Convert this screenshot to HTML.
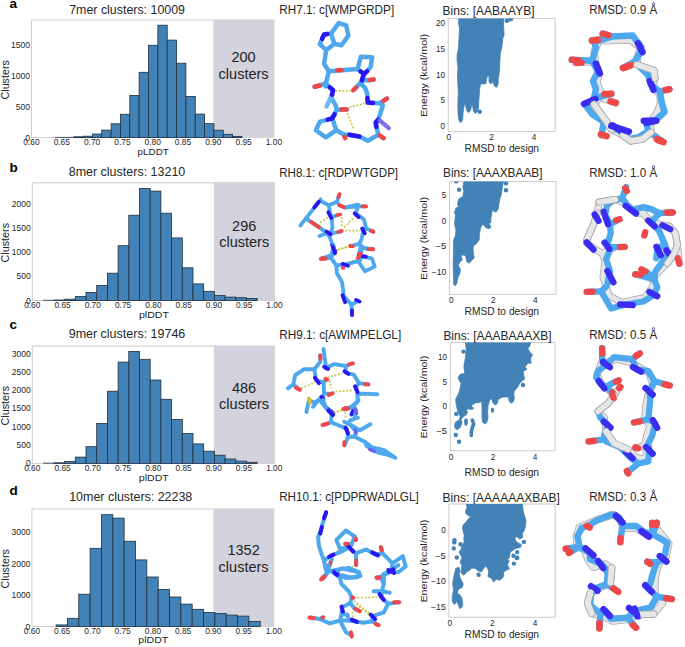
<!DOCTYPE html>
<html><head><meta charset="utf-8"><title>figure</title>
<style>html,body{margin:0;padding:0;background:#fff;width:685px;height:647px;overflow:hidden}svg{display:block}</style>
</head><body>
<svg width="685" height="647" viewBox="0 0 685 647" font-family='"Liberation Sans", sans-serif'><text x="9.6" y="8.3" font-size="13.5" text-anchor="start" font-weight="bold" fill="#000">a</text>
<text x="9.6" y="172.3" font-size="13.5" text-anchor="start" font-weight="bold" fill="#000">b</text>
<text x="9.6" y="328.6" font-size="13.5" text-anchor="start" font-weight="bold" fill="#000">c</text>
<text x="9.6" y="494.8" font-size="13.5" text-anchor="start" font-weight="bold" fill="#000">d</text>
<rect x="31.5" y="20.0" width="242.4" height="117.6" fill="#fff" stroke="#cccccc" stroke-width="1"/>
<rect x="213.3" y="20.0" width="60.6" height="117.6" fill="#d3d3de"/>
<line x1="55.00" y1="137.40" x2="64.35" y2="137.40" stroke="#1f2f3f" stroke-width="0.8"/>
<line x1="64.35" y1="137.40" x2="73.70" y2="137.40" stroke="#1f2f3f" stroke-width="0.8"/>
<rect x="73.70" y="136.80" width="9.35" height="0.80" fill="#4282b6" stroke="#1f2f3f" stroke-width="0.8"/>
<rect x="83.05" y="136.20" width="9.35" height="1.40" fill="#4282b6" stroke="#1f2f3f" stroke-width="0.8"/>
<rect x="92.40" y="134.00" width="9.35" height="3.60" fill="#4282b6" stroke="#1f2f3f" stroke-width="0.8"/>
<rect x="101.75" y="130.10" width="9.35" height="7.50" fill="#4282b6" stroke="#1f2f3f" stroke-width="0.8"/>
<rect x="111.10" y="123.80" width="9.35" height="13.80" fill="#4282b6" stroke="#1f2f3f" stroke-width="0.8"/>
<rect x="120.45" y="114.30" width="9.35" height="23.30" fill="#4282b6" stroke="#1f2f3f" stroke-width="0.8"/>
<rect x="129.80" y="95.40" width="9.35" height="42.20" fill="#4282b6" stroke="#1f2f3f" stroke-width="0.8"/>
<rect x="139.15" y="72.30" width="9.35" height="65.30" fill="#4282b6" stroke="#1f2f3f" stroke-width="0.8"/>
<rect x="148.50" y="45.30" width="9.35" height="92.30" fill="#4282b6" stroke="#1f2f3f" stroke-width="0.8"/>
<rect x="157.85" y="25.20" width="9.35" height="112.40" fill="#4282b6" stroke="#1f2f3f" stroke-width="0.8"/>
<rect x="167.20" y="40.10" width="9.35" height="97.50" fill="#4282b6" stroke="#1f2f3f" stroke-width="0.8"/>
<rect x="176.55" y="63.20" width="9.35" height="74.40" fill="#4282b6" stroke="#1f2f3f" stroke-width="0.8"/>
<rect x="185.90" y="96.40" width="9.35" height="41.20" fill="#4282b6" stroke="#1f2f3f" stroke-width="0.8"/>
<rect x="195.25" y="114.10" width="9.35" height="23.50" fill="#4282b6" stroke="#1f2f3f" stroke-width="0.8"/>
<rect x="204.60" y="123.70" width="9.35" height="13.90" fill="#4282b6" stroke="#1f2f3f" stroke-width="0.8"/>
<rect x="213.95" y="130.20" width="9.35" height="7.40" fill="#4282b6" stroke="#1f2f3f" stroke-width="0.8"/>
<rect x="223.30" y="134.30" width="9.35" height="3.30" fill="#4282b6" stroke="#1f2f3f" stroke-width="0.8"/>
<rect x="232.65" y="136.50" width="9.35" height="1.10" fill="#4282b6" stroke="#1f2f3f" stroke-width="0.8"/>
<text x="69.2" y="14.3" font-size="13.5" text-anchor="start" font-weight="normal" fill="#262626" textLength="115.8" lengthAdjust="spacingAndGlyphs">7mer clusters: 10009</text>
<text x="243.6" y="61.6" font-size="14.5" text-anchor="middle" font-weight="normal" fill="#222">200</text>
<text x="243.6" y="78.5" font-size="14.5" text-anchor="middle" font-weight="normal" fill="#222" textLength="50.0" lengthAdjust="spacingAndGlyphs">clusters</text>
<text x="31.5" y="145.4" font-size="8.4" text-anchor="middle" font-weight="normal" fill="#262626" textLength="16.3" lengthAdjust="spacingAndGlyphs">0.60</text>
<text x="61.8" y="145.4" font-size="8.4" text-anchor="middle" font-weight="normal" fill="#262626" textLength="16.3" lengthAdjust="spacingAndGlyphs">0.65</text>
<text x="92.1" y="145.4" font-size="8.4" text-anchor="middle" font-weight="normal" fill="#262626" textLength="16.3" lengthAdjust="spacingAndGlyphs">0.70</text>
<text x="122.4" y="145.4" font-size="8.4" text-anchor="middle" font-weight="normal" fill="#262626" textLength="16.3" lengthAdjust="spacingAndGlyphs">0.75</text>
<text x="152.7" y="145.4" font-size="8.4" text-anchor="middle" font-weight="normal" fill="#262626" textLength="16.3" lengthAdjust="spacingAndGlyphs">0.80</text>
<text x="183.0" y="145.4" font-size="8.4" text-anchor="middle" font-weight="normal" fill="#262626" textLength="16.3" lengthAdjust="spacingAndGlyphs">0.85</text>
<text x="213.3" y="145.4" font-size="8.4" text-anchor="middle" font-weight="normal" fill="#262626" textLength="16.3" lengthAdjust="spacingAndGlyphs">0.90</text>
<text x="243.6" y="145.4" font-size="8.4" text-anchor="middle" font-weight="normal" fill="#262626" textLength="16.3" lengthAdjust="spacingAndGlyphs">0.95</text>
<text x="273.9" y="145.4" font-size="8.4" text-anchor="middle" font-weight="normal" fill="#262626" textLength="16.3" lengthAdjust="spacingAndGlyphs">1.00</text>
<text x="30.0" y="140.6" font-size="8.4" text-anchor="end" font-weight="normal" fill="#262626" textLength="4.8" lengthAdjust="spacingAndGlyphs">0</text>
<text x="30.0" y="109.9" font-size="8.4" text-anchor="end" font-weight="normal" fill="#262626" textLength="14.2" lengthAdjust="spacingAndGlyphs">500</text>
<text x="30.0" y="78.8" font-size="8.4" text-anchor="end" font-weight="normal" fill="#262626" textLength="19.0" lengthAdjust="spacingAndGlyphs">1000</text>
<text x="30.0" y="47.6" font-size="8.4" text-anchor="end" font-weight="normal" fill="#262626" textLength="19.0" lengthAdjust="spacingAndGlyphs">1500</text>
<text x="153.2" y="154.8" font-size="9.5" text-anchor="middle" font-weight="normal" fill="#262626" textLength="31.2" lengthAdjust="spacingAndGlyphs">pLDDT</text>
<text x="8.9" y="79.8" font-size="10.4" text-anchor="middle" font-weight="normal" fill="#262626" textLength="39.5" lengthAdjust="spacingAndGlyphs" transform="rotate(-90 8.9 79.8)">Clusters</text>
<rect x="32.3" y="182.8" width="242.2" height="117.7" fill="#fff" stroke="#cccccc" stroke-width="1"/>
<rect x="213.9" y="182.8" width="60.6" height="117.7" fill="#d3d3de"/>
<line x1="43.20" y1="300.30" x2="53.90" y2="300.30" stroke="#1f2f3f" stroke-width="0.8"/>
<rect x="53.90" y="300.00" width="10.70" height="0.50" fill="#4282b6" stroke="#1f2f3f" stroke-width="0.8"/>
<rect x="64.60" y="299.20" width="10.70" height="1.30" fill="#4282b6" stroke="#1f2f3f" stroke-width="0.8"/>
<rect x="75.30" y="296.60" width="10.70" height="3.90" fill="#4282b6" stroke="#1f2f3f" stroke-width="0.8"/>
<rect x="86.00" y="292.40" width="10.70" height="8.10" fill="#4282b6" stroke="#1f2f3f" stroke-width="0.8"/>
<rect x="96.70" y="285.40" width="10.70" height="15.10" fill="#4282b6" stroke="#1f2f3f" stroke-width="0.8"/>
<rect x="107.40" y="273.20" width="10.70" height="27.30" fill="#4282b6" stroke="#1f2f3f" stroke-width="0.8"/>
<rect x="118.10" y="245.70" width="10.70" height="54.80" fill="#4282b6" stroke="#1f2f3f" stroke-width="0.8"/>
<rect x="128.80" y="215.20" width="10.70" height="85.30" fill="#4282b6" stroke="#1f2f3f" stroke-width="0.8"/>
<rect x="139.50" y="188.50" width="10.70" height="112.00" fill="#4282b6" stroke="#1f2f3f" stroke-width="0.8"/>
<rect x="150.20" y="191.10" width="10.70" height="109.40" fill="#4282b6" stroke="#1f2f3f" stroke-width="0.8"/>
<rect x="160.90" y="213.20" width="10.70" height="87.30" fill="#4282b6" stroke="#1f2f3f" stroke-width="0.8"/>
<rect x="171.60" y="237.90" width="10.70" height="62.60" fill="#4282b6" stroke="#1f2f3f" stroke-width="0.8"/>
<rect x="182.30" y="267.80" width="10.70" height="32.70" fill="#4282b6" stroke="#1f2f3f" stroke-width="0.8"/>
<rect x="193.00" y="283.90" width="10.70" height="16.60" fill="#4282b6" stroke="#1f2f3f" stroke-width="0.8"/>
<rect x="203.70" y="291.30" width="10.70" height="9.20" fill="#4282b6" stroke="#1f2f3f" stroke-width="0.8"/>
<rect x="214.40" y="295.50" width="10.70" height="5.00" fill="#4282b6" stroke="#1f2f3f" stroke-width="0.8"/>
<rect x="225.10" y="297.10" width="10.70" height="3.40" fill="#4282b6" stroke="#1f2f3f" stroke-width="0.8"/>
<rect x="235.80" y="297.70" width="10.70" height="2.80" fill="#4282b6" stroke="#1f2f3f" stroke-width="0.8"/>
<rect x="246.50" y="298.40" width="10.70" height="2.10" fill="#4282b6" stroke="#1f2f3f" stroke-width="0.8"/>
<text x="68.7" y="176.1" font-size="13.5" text-anchor="start" font-weight="normal" fill="#262626" textLength="116.6" lengthAdjust="spacingAndGlyphs">8mer clusters: 13210</text>
<text x="244.2" y="230.6" font-size="14.5" text-anchor="middle" font-weight="normal" fill="#222">296</text>
<text x="244.2" y="247.2" font-size="14.5" text-anchor="middle" font-weight="normal" fill="#222" textLength="50.0" lengthAdjust="spacingAndGlyphs">clusters</text>
<text x="32.3" y="308.3" font-size="8.4" text-anchor="middle" font-weight="normal" fill="#262626" textLength="16.3" lengthAdjust="spacingAndGlyphs">0.60</text>
<text x="62.6" y="308.3" font-size="8.4" text-anchor="middle" font-weight="normal" fill="#262626" textLength="16.3" lengthAdjust="spacingAndGlyphs">0.65</text>
<text x="92.8" y="308.3" font-size="8.4" text-anchor="middle" font-weight="normal" fill="#262626" textLength="16.3" lengthAdjust="spacingAndGlyphs">0.70</text>
<text x="123.1" y="308.3" font-size="8.4" text-anchor="middle" font-weight="normal" fill="#262626" textLength="16.3" lengthAdjust="spacingAndGlyphs">0.75</text>
<text x="153.4" y="308.3" font-size="8.4" text-anchor="middle" font-weight="normal" fill="#262626" textLength="16.3" lengthAdjust="spacingAndGlyphs">0.80</text>
<text x="183.7" y="308.3" font-size="8.4" text-anchor="middle" font-weight="normal" fill="#262626" textLength="16.3" lengthAdjust="spacingAndGlyphs">0.85</text>
<text x="213.9" y="308.3" font-size="8.4" text-anchor="middle" font-weight="normal" fill="#262626" textLength="16.3" lengthAdjust="spacingAndGlyphs">0.90</text>
<text x="244.2" y="308.3" font-size="8.4" text-anchor="middle" font-weight="normal" fill="#262626" textLength="16.3" lengthAdjust="spacingAndGlyphs">0.95</text>
<text x="274.5" y="308.3" font-size="8.4" text-anchor="middle" font-weight="normal" fill="#262626" textLength="16.3" lengthAdjust="spacingAndGlyphs">1.00</text>
<text x="30.8" y="303.5" font-size="8.4" text-anchor="end" font-weight="normal" fill="#262626" textLength="4.8" lengthAdjust="spacingAndGlyphs">0</text>
<text x="30.8" y="279.0" font-size="8.4" text-anchor="end" font-weight="normal" fill="#262626" textLength="14.2" lengthAdjust="spacingAndGlyphs">500</text>
<text x="30.8" y="254.5" font-size="8.4" text-anchor="end" font-weight="normal" fill="#262626" textLength="19.0" lengthAdjust="spacingAndGlyphs">1000</text>
<text x="30.8" y="230.5" font-size="8.4" text-anchor="end" font-weight="normal" fill="#262626" textLength="19.0" lengthAdjust="spacingAndGlyphs">1500</text>
<text x="30.8" y="206.5" font-size="8.4" text-anchor="end" font-weight="normal" fill="#262626" textLength="19.0" lengthAdjust="spacingAndGlyphs">2000</text>
<text x="153.9" y="317.7" font-size="9.5" text-anchor="middle" font-weight="normal" fill="#262626" textLength="30.0" lengthAdjust="spacingAndGlyphs">plDDT</text>
<text x="8.9" y="242.7" font-size="10.4" text-anchor="middle" font-weight="normal" fill="#262626" textLength="39.5" lengthAdjust="spacingAndGlyphs" transform="rotate(-90 8.9 242.7)">Clusters</text>
<rect x="32.3" y="346.0" width="242.0" height="117.4" fill="#fff" stroke="#cccccc" stroke-width="1"/>
<rect x="213.8" y="346.0" width="60.5" height="117.4" fill="#d3d3de"/>
<line x1="43.20" y1="463.20" x2="53.90" y2="463.20" stroke="#1f2f3f" stroke-width="0.8"/>
<rect x="53.90" y="462.80" width="10.70" height="0.60" fill="#4282b6" stroke="#1f2f3f" stroke-width="0.8"/>
<rect x="64.60" y="461.50" width="10.70" height="1.90" fill="#4282b6" stroke="#1f2f3f" stroke-width="0.8"/>
<rect x="75.30" y="457.10" width="10.70" height="6.30" fill="#4282b6" stroke="#1f2f3f" stroke-width="0.8"/>
<rect x="86.00" y="446.70" width="10.70" height="16.70" fill="#4282b6" stroke="#1f2f3f" stroke-width="0.8"/>
<rect x="96.70" y="423.50" width="10.70" height="39.90" fill="#4282b6" stroke="#1f2f3f" stroke-width="0.8"/>
<rect x="107.40" y="391.20" width="10.70" height="72.20" fill="#4282b6" stroke="#1f2f3f" stroke-width="0.8"/>
<rect x="118.10" y="362.10" width="10.70" height="101.30" fill="#4282b6" stroke="#1f2f3f" stroke-width="0.8"/>
<rect x="128.80" y="351.40" width="10.70" height="112.00" fill="#4282b6" stroke="#1f2f3f" stroke-width="0.8"/>
<rect x="139.50" y="359.30" width="10.70" height="104.10" fill="#4282b6" stroke="#1f2f3f" stroke-width="0.8"/>
<rect x="150.20" y="380.00" width="10.70" height="83.40" fill="#4282b6" stroke="#1f2f3f" stroke-width="0.8"/>
<rect x="160.90" y="399.30" width="10.70" height="64.10" fill="#4282b6" stroke="#1f2f3f" stroke-width="0.8"/>
<rect x="171.60" y="419.40" width="10.70" height="44.00" fill="#4282b6" stroke="#1f2f3f" stroke-width="0.8"/>
<rect x="182.30" y="433.40" width="10.70" height="30.00" fill="#4282b6" stroke="#1f2f3f" stroke-width="0.8"/>
<rect x="193.00" y="443.90" width="10.70" height="19.50" fill="#4282b6" stroke="#1f2f3f" stroke-width="0.8"/>
<rect x="203.70" y="451.20" width="10.70" height="12.20" fill="#4282b6" stroke="#1f2f3f" stroke-width="0.8"/>
<rect x="214.40" y="455.20" width="10.70" height="8.20" fill="#4282b6" stroke="#1f2f3f" stroke-width="0.8"/>
<rect x="225.10" y="459.00" width="10.70" height="4.40" fill="#4282b6" stroke="#1f2f3f" stroke-width="0.8"/>
<rect x="235.80" y="461.10" width="10.70" height="2.30" fill="#4282b6" stroke="#1f2f3f" stroke-width="0.8"/>
<rect x="246.50" y="462.30" width="10.70" height="1.10" fill="#4282b6" stroke="#1f2f3f" stroke-width="0.8"/>
<text x="68.7" y="338.1" font-size="13.5" text-anchor="start" font-weight="normal" fill="#262626" textLength="116.6" lengthAdjust="spacingAndGlyphs">9mer clusters: 19746</text>
<text x="244.1" y="392.7" font-size="14.5" text-anchor="middle" font-weight="normal" fill="#222">486</text>
<text x="244.1" y="409.2" font-size="14.5" text-anchor="middle" font-weight="normal" fill="#222" textLength="50.0" lengthAdjust="spacingAndGlyphs">clusters</text>
<text x="32.3" y="471.2" font-size="8.4" text-anchor="middle" font-weight="normal" fill="#262626" textLength="16.3" lengthAdjust="spacingAndGlyphs">0.60</text>
<text x="62.6" y="471.2" font-size="8.4" text-anchor="middle" font-weight="normal" fill="#262626" textLength="16.3" lengthAdjust="spacingAndGlyphs">0.65</text>
<text x="92.8" y="471.2" font-size="8.4" text-anchor="middle" font-weight="normal" fill="#262626" textLength="16.3" lengthAdjust="spacingAndGlyphs">0.70</text>
<text x="123.1" y="471.2" font-size="8.4" text-anchor="middle" font-weight="normal" fill="#262626" textLength="16.3" lengthAdjust="spacingAndGlyphs">0.75</text>
<text x="153.3" y="471.2" font-size="8.4" text-anchor="middle" font-weight="normal" fill="#262626" textLength="16.3" lengthAdjust="spacingAndGlyphs">0.80</text>
<text x="183.6" y="471.2" font-size="8.4" text-anchor="middle" font-weight="normal" fill="#262626" textLength="16.3" lengthAdjust="spacingAndGlyphs">0.85</text>
<text x="213.8" y="471.2" font-size="8.4" text-anchor="middle" font-weight="normal" fill="#262626" textLength="16.3" lengthAdjust="spacingAndGlyphs">0.90</text>
<text x="244.0" y="471.2" font-size="8.4" text-anchor="middle" font-weight="normal" fill="#262626" textLength="16.3" lengthAdjust="spacingAndGlyphs">0.95</text>
<text x="274.3" y="471.2" font-size="8.4" text-anchor="middle" font-weight="normal" fill="#262626" textLength="16.3" lengthAdjust="spacingAndGlyphs">1.00</text>
<text x="30.8" y="466.4" font-size="8.4" text-anchor="end" font-weight="normal" fill="#262626" textLength="4.8" lengthAdjust="spacingAndGlyphs">0</text>
<text x="30.8" y="448.0" font-size="8.4" text-anchor="end" font-weight="normal" fill="#262626" textLength="14.2" lengthAdjust="spacingAndGlyphs">500</text>
<text x="30.8" y="429.6" font-size="8.4" text-anchor="end" font-weight="normal" fill="#262626" textLength="19.0" lengthAdjust="spacingAndGlyphs">1000</text>
<text x="30.8" y="411.4" font-size="8.4" text-anchor="end" font-weight="normal" fill="#262626" textLength="19.0" lengthAdjust="spacingAndGlyphs">1500</text>
<text x="30.8" y="393.2" font-size="8.4" text-anchor="end" font-weight="normal" fill="#262626" textLength="19.0" lengthAdjust="spacingAndGlyphs">2000</text>
<text x="30.8" y="375.0" font-size="8.4" text-anchor="end" font-weight="normal" fill="#262626" textLength="19.0" lengthAdjust="spacingAndGlyphs">2500</text>
<text x="30.8" y="356.6" font-size="8.4" text-anchor="end" font-weight="normal" fill="#262626" textLength="19.0" lengthAdjust="spacingAndGlyphs">3000</text>
<text x="153.8" y="480.6" font-size="9.5" text-anchor="middle" font-weight="normal" fill="#262626" textLength="30.0" lengthAdjust="spacingAndGlyphs">plDDT</text>
<text x="8.9" y="405.7" font-size="10.4" text-anchor="middle" font-weight="normal" fill="#262626" textLength="39.5" lengthAdjust="spacingAndGlyphs" transform="rotate(-90 8.9 405.7)">Clusters</text>
<rect x="31.9" y="509.0" width="241.9" height="117.5" fill="#fff" stroke="#cccccc" stroke-width="1"/>
<rect x="213.3" y="509.0" width="60.5" height="117.5" fill="#d3d3de"/>
<rect x="56.10" y="624.90" width="11.34" height="1.60" fill="#4282b6" stroke="#1f2f3f" stroke-width="0.8"/>
<rect x="67.44" y="618.30" width="11.34" height="8.20" fill="#4282b6" stroke="#1f2f3f" stroke-width="0.8"/>
<rect x="78.78" y="594.20" width="11.34" height="32.30" fill="#4282b6" stroke="#1f2f3f" stroke-width="0.8"/>
<rect x="90.12" y="548.30" width="11.34" height="78.20" fill="#4282b6" stroke="#1f2f3f" stroke-width="0.8"/>
<rect x="101.46" y="514.70" width="11.34" height="111.80" fill="#4282b6" stroke="#1f2f3f" stroke-width="0.8"/>
<rect x="112.80" y="518.10" width="11.34" height="108.40" fill="#4282b6" stroke="#1f2f3f" stroke-width="0.8"/>
<rect x="124.14" y="541.20" width="11.34" height="85.30" fill="#4282b6" stroke="#1f2f3f" stroke-width="0.8"/>
<rect x="135.48" y="559.90" width="11.34" height="66.60" fill="#4282b6" stroke="#1f2f3f" stroke-width="0.8"/>
<rect x="146.82" y="577.00" width="11.34" height="49.50" fill="#4282b6" stroke="#1f2f3f" stroke-width="0.8"/>
<rect x="158.16" y="589.40" width="11.34" height="37.10" fill="#4282b6" stroke="#1f2f3f" stroke-width="0.8"/>
<rect x="169.50" y="597.00" width="11.34" height="29.50" fill="#4282b6" stroke="#1f2f3f" stroke-width="0.8"/>
<rect x="180.84" y="604.10" width="11.34" height="22.40" fill="#4282b6" stroke="#1f2f3f" stroke-width="0.8"/>
<rect x="192.18" y="609.30" width="11.34" height="17.20" fill="#4282b6" stroke="#1f2f3f" stroke-width="0.8"/>
<rect x="203.52" y="612.40" width="11.34" height="14.10" fill="#4282b6" stroke="#1f2f3f" stroke-width="0.8"/>
<rect x="214.86" y="613.50" width="11.34" height="13.00" fill="#4282b6" stroke="#1f2f3f" stroke-width="0.8"/>
<rect x="226.20" y="615.10" width="11.34" height="11.40" fill="#4282b6" stroke="#1f2f3f" stroke-width="0.8"/>
<rect x="237.54" y="616.10" width="11.34" height="10.40" fill="#4282b6" stroke="#1f2f3f" stroke-width="0.8"/>
<rect x="248.88" y="621.50" width="11.34" height="5.00" fill="#4282b6" stroke="#1f2f3f" stroke-width="0.8"/>
<text x="69.2" y="501.1" font-size="13.5" text-anchor="start" font-weight="normal" fill="#262626" textLength="123.1" lengthAdjust="spacingAndGlyphs">10mer clusters: 22238</text>
<text x="243.6" y="554.7" font-size="14.5" text-anchor="middle" font-weight="normal" fill="#222">1352</text>
<text x="243.6" y="571.6" font-size="14.5" text-anchor="middle" font-weight="normal" fill="#222" textLength="50.0" lengthAdjust="spacingAndGlyphs">clusters</text>
<text x="31.9" y="634.3" font-size="8.4" text-anchor="middle" font-weight="normal" fill="#262626" textLength="16.3" lengthAdjust="spacingAndGlyphs">0.60</text>
<text x="62.1" y="634.3" font-size="8.4" text-anchor="middle" font-weight="normal" fill="#262626" textLength="16.3" lengthAdjust="spacingAndGlyphs">0.65</text>
<text x="92.4" y="634.3" font-size="8.4" text-anchor="middle" font-weight="normal" fill="#262626" textLength="16.3" lengthAdjust="spacingAndGlyphs">0.70</text>
<text x="122.6" y="634.3" font-size="8.4" text-anchor="middle" font-weight="normal" fill="#262626" textLength="16.3" lengthAdjust="spacingAndGlyphs">0.75</text>
<text x="152.9" y="634.3" font-size="8.4" text-anchor="middle" font-weight="normal" fill="#262626" textLength="16.3" lengthAdjust="spacingAndGlyphs">0.80</text>
<text x="183.1" y="634.3" font-size="8.4" text-anchor="middle" font-weight="normal" fill="#262626" textLength="16.3" lengthAdjust="spacingAndGlyphs">0.85</text>
<text x="213.3" y="634.3" font-size="8.4" text-anchor="middle" font-weight="normal" fill="#262626" textLength="16.3" lengthAdjust="spacingAndGlyphs">0.90</text>
<text x="243.6" y="634.3" font-size="8.4" text-anchor="middle" font-weight="normal" fill="#262626" textLength="16.3" lengthAdjust="spacingAndGlyphs">0.95</text>
<text x="273.8" y="634.3" font-size="8.4" text-anchor="middle" font-weight="normal" fill="#262626" textLength="16.3" lengthAdjust="spacingAndGlyphs">1.00</text>
<text x="30.4" y="629.5" font-size="8.4" text-anchor="end" font-weight="normal" fill="#262626" textLength="4.8" lengthAdjust="spacingAndGlyphs">0</text>
<text x="30.4" y="598.2" font-size="8.4" text-anchor="end" font-weight="normal" fill="#262626" textLength="19.0" lengthAdjust="spacingAndGlyphs">1000</text>
<text x="30.4" y="566.6" font-size="8.4" text-anchor="end" font-weight="normal" fill="#262626" textLength="19.0" lengthAdjust="spacingAndGlyphs">2000</text>
<text x="30.4" y="534.6" font-size="8.4" text-anchor="end" font-weight="normal" fill="#262626" textLength="19.0" lengthAdjust="spacingAndGlyphs">3000</text>
<text x="153.3" y="642.5" font-size="9.5" text-anchor="middle" font-weight="normal" fill="#262626" textLength="30.0" lengthAdjust="spacingAndGlyphs">plDDT</text>
<text x="8.9" y="568.8" font-size="10.4" text-anchor="middle" font-weight="normal" fill="#262626" textLength="39.5" lengthAdjust="spacingAndGlyphs" transform="rotate(-90 8.9 568.8)">Clusters</text>
<rect x="448.3" y="18.4" width="106.9" height="113.1" fill="#fff" stroke="#cccccc" stroke-width="1"/>
<text x="442.6" y="14.8" font-size="13.2" text-anchor="start" font-weight="normal" fill="#262626" textLength="91.9" lengthAdjust="spacingAndGlyphs">Bins: [AABAAYB]</text>
<text x="448.8" y="140.4" font-size="8.3" text-anchor="middle" font-weight="normal" fill="#262626">0</text>
<text x="491.5" y="140.4" font-size="8.3" text-anchor="middle" font-weight="normal" fill="#262626">2</text>
<text x="534.1" y="140.4" font-size="8.3" text-anchor="middle" font-weight="normal" fill="#262626">4</text>
<text x="445.1" y="128.8" font-size="8.5" text-anchor="end" font-weight="normal" fill="#262626" textLength="4.5" lengthAdjust="spacingAndGlyphs">0</text>
<text x="445.1" y="103.0" font-size="8.5" text-anchor="end" font-weight="normal" fill="#262626" textLength="4.5" lengthAdjust="spacingAndGlyphs">5</text>
<text x="445.1" y="77.5" font-size="8.5" text-anchor="end" font-weight="normal" fill="#262626" textLength="9.0" lengthAdjust="spacingAndGlyphs">10</text>
<text x="445.1" y="51.5" font-size="8.5" text-anchor="end" font-weight="normal" fill="#262626" textLength="9.0" lengthAdjust="spacingAndGlyphs">15</text>
<text x="445.1" y="25.6" font-size="8.5" text-anchor="end" font-weight="normal" fill="#262626" textLength="9.0" lengthAdjust="spacingAndGlyphs">20</text>
<text x="501.8" y="151.9" font-size="10.3" text-anchor="middle" font-weight="normal" fill="#262626" textLength="74.5" lengthAdjust="spacingAndGlyphs">RMSD to design</text>
<text x="427.0" y="75.5" font-size="9.7" text-anchor="middle" font-weight="normal" fill="#262626" textLength="83.0" lengthAdjust="spacingAndGlyphs" transform="rotate(-90 427.0 75.5)">Energy (kcal/mol)</text>
<rect x="449.5" y="181.5" width="106.5" height="112.8" fill="#fff" stroke="#cccccc" stroke-width="1"/>
<text x="443.0" y="176.6" font-size="13.2" text-anchor="start" font-weight="normal" fill="#262626" textLength="99.5" lengthAdjust="spacingAndGlyphs">Bins: [AAAXBAAB]</text>
<text x="451.2" y="303.2" font-size="8.3" text-anchor="middle" font-weight="normal" fill="#262626">0</text>
<text x="493.3" y="303.2" font-size="8.3" text-anchor="middle" font-weight="normal" fill="#262626">2</text>
<text x="535.4" y="303.2" font-size="8.3" text-anchor="middle" font-weight="normal" fill="#262626">4</text>
<text x="446.3" y="274.7" font-size="8.5" text-anchor="end" font-weight="normal" fill="#262626" textLength="14.7" lengthAdjust="spacingAndGlyphs">−10</text>
<text x="446.3" y="249.2" font-size="8.5" text-anchor="end" font-weight="normal" fill="#262626" textLength="10.7" lengthAdjust="spacingAndGlyphs">−5</text>
<text x="446.3" y="223.7" font-size="8.5" text-anchor="end" font-weight="normal" fill="#262626" textLength="4.5" lengthAdjust="spacingAndGlyphs">0</text>
<text x="446.3" y="198.2" font-size="8.5" text-anchor="end" font-weight="normal" fill="#262626" textLength="4.5" lengthAdjust="spacingAndGlyphs">5</text>
<text x="501.8" y="314.7" font-size="10.3" text-anchor="middle" font-weight="normal" fill="#262626" textLength="74.5" lengthAdjust="spacingAndGlyphs">RMSD to design</text>
<text x="427.0" y="238.4" font-size="9.7" text-anchor="middle" font-weight="normal" fill="#262626" textLength="83.0" lengthAdjust="spacingAndGlyphs" transform="rotate(-90 427.0 238.4)">Energy (kcal/mol)</text>
<rect x="450.3" y="342.5" width="104.7" height="108.3" fill="#fff" stroke="#cccccc" stroke-width="1"/>
<text x="443.4" y="339.7" font-size="13.2" text-anchor="start" font-weight="normal" fill="#262626" textLength="108.2" lengthAdjust="spacingAndGlyphs">Bins: [AAABAAAXB]</text>
<text x="451.0" y="459.7" font-size="8.3" text-anchor="middle" font-weight="normal" fill="#262626">0</text>
<text x="493.0" y="459.7" font-size="8.3" text-anchor="middle" font-weight="normal" fill="#262626">2</text>
<text x="535.0" y="459.7" font-size="8.3" text-anchor="middle" font-weight="normal" fill="#262626">4</text>
<text x="447.1" y="434.1" font-size="8.5" text-anchor="end" font-weight="normal" fill="#262626" textLength="10.7" lengthAdjust="spacingAndGlyphs">−5</text>
<text x="447.1" y="409.2" font-size="8.5" text-anchor="end" font-weight="normal" fill="#262626" textLength="4.5" lengthAdjust="spacingAndGlyphs">0</text>
<text x="447.1" y="384.7" font-size="8.5" text-anchor="end" font-weight="normal" fill="#262626" textLength="4.5" lengthAdjust="spacingAndGlyphs">5</text>
<text x="447.1" y="359.8" font-size="8.5" text-anchor="end" font-weight="normal" fill="#262626" textLength="9.0" lengthAdjust="spacingAndGlyphs">10</text>
<text x="501.8" y="475.5" font-size="10.3" text-anchor="middle" font-weight="normal" fill="#262626" textLength="74.5" lengthAdjust="spacingAndGlyphs">RMSD to design</text>
<text x="427.0" y="397.1" font-size="9.7" text-anchor="middle" font-weight="normal" fill="#262626" textLength="83.0" lengthAdjust="spacingAndGlyphs" transform="rotate(-90 427.0 397.1)">Energy (kcal/mol)</text>
<rect x="448.9" y="504.0" width="106.3" height="113.2" fill="#fff" stroke="#cccccc" stroke-width="1"/>
<text x="442.5" y="502.0" font-size="13.2" text-anchor="start" font-weight="normal" fill="#262626" textLength="117.3" lengthAdjust="spacingAndGlyphs">Bins: [AAAAAAXBAB]</text>
<text x="449.8" y="626.1" font-size="8.3" text-anchor="middle" font-weight="normal" fill="#262626">0</text>
<text x="492.4" y="626.1" font-size="8.3" text-anchor="middle" font-weight="normal" fill="#262626">2</text>
<text x="535.0" y="626.1" font-size="8.3" text-anchor="middle" font-weight="normal" fill="#262626">4</text>
<text x="445.7" y="610.0" font-size="8.5" text-anchor="end" font-weight="normal" fill="#262626" textLength="14.7" lengthAdjust="spacingAndGlyphs">−15</text>
<text x="445.7" y="584.4" font-size="8.5" text-anchor="end" font-weight="normal" fill="#262626" textLength="14.7" lengthAdjust="spacingAndGlyphs">−10</text>
<text x="445.7" y="558.6" font-size="8.5" text-anchor="end" font-weight="normal" fill="#262626" textLength="10.7" lengthAdjust="spacingAndGlyphs">−5</text>
<text x="445.7" y="533.1" font-size="8.5" text-anchor="end" font-weight="normal" fill="#262626" textLength="4.5" lengthAdjust="spacingAndGlyphs">0</text>
<text x="501.8" y="637.6" font-size="10.3" text-anchor="middle" font-weight="normal" fill="#262626" textLength="74.5" lengthAdjust="spacingAndGlyphs">RMSD to design</text>
<text x="427.0" y="561.1" font-size="9.7" text-anchor="middle" font-weight="normal" fill="#262626" textLength="83.0" lengthAdjust="spacingAndGlyphs" transform="rotate(-90 427.0 561.1)">Energy (kcal/mol)</text>
<text x="589.2" y="14.4" font-size="13.0" text-anchor="start" font-weight="normal" fill="#262626" textLength="68.0" lengthAdjust="spacingAndGlyphs">RMSD: 0.9 Å</text>
<text x="589.2" y="176.5" font-size="13.0" text-anchor="start" font-weight="normal" fill="#262626" textLength="68.0" lengthAdjust="spacingAndGlyphs">RMSD: 1.0 Å</text>
<text x="589.2" y="338.9" font-size="13.0" text-anchor="start" font-weight="normal" fill="#262626" textLength="68.0" lengthAdjust="spacingAndGlyphs">RMSD: 0.5 Å</text>
<text x="589.2" y="500.9" font-size="13.0" text-anchor="start" font-weight="normal" fill="#262626" textLength="68.0" lengthAdjust="spacingAndGlyphs">RMSD: 0.3 Å</text>
<text x="279.2" y="14.4" font-size="13.0" text-anchor="start" font-weight="normal" fill="#262626" textLength="115.0" lengthAdjust="spacingAndGlyphs">RH7.1: c[WMPGRDP]</text>
<text x="279.2" y="176.9" font-size="13.0" text-anchor="start" font-weight="normal" fill="#262626" textLength="118.9" lengthAdjust="spacingAndGlyphs">RH8.1: c[RDPWTGDP]</text>
<text x="279.2" y="338.9" font-size="13.0" text-anchor="start" font-weight="normal" fill="#262626" textLength="122.0" lengthAdjust="spacingAndGlyphs">RH9.1: c[AWIMPELGL]</text>
<text x="279.2" y="501.0" font-size="13.0" text-anchor="start" font-weight="normal" fill="#262626" textLength="139.5" lengthAdjust="spacingAndGlyphs">RH10.1: c[PDPRWADLGL]</text>
<clipPath id="cl1"><rect x="448.3" y="18.4" width="106.9" height="113.1"/></clipPath>
<g clip-path="url(#cl1)" fill="#4282b6">
<path d="M459.0,16.0 L504.0,16.0 L503.6,24.5 L504.1,34.9 L502.7,38.7 L501.7,48.2 L500.3,53.0 L499.8,62.4 L499.6,70.0 L499.2,72.8 L498.2,79.3 L498.2,83.9 L496.8,87.2 L495.0,86.7 L493.6,83.9 L492.7,82.1 L490.8,83.9 L489.0,82.1 L489.0,76.5 L487.6,75.6 L486.6,79.3 L485.7,83.9 L482.9,83.9 L480.6,83.9 L479.7,88.6 L478.8,100.6 L478.3,109.0 L477.4,111.7 L475.5,113.6 L473.7,111.7 L472.7,107.1 L472.3,100.6 L471.3,107.1 L470.4,110.8 L468.6,112.7 L466.7,110.8 L465.8,106.2 L464.8,102.5 L463.9,107.1 L463.0,113.6 L462.5,120.1 L460.7,122.9 L458.8,120.1 L457.9,111.7 L457.9,102.5 L458.3,93.2 L457.9,83.9 L457.4,75.6 L457.9,70.0 L458.1,68.1 L457.1,60.5 L457.1,54.8 L458.5,48.2 L459.0,38.7 L459.5,29.2 L458.5,22.6 Z" stroke="#4282b6" stroke-width="0.8" stroke-linejoin="round"/>
<circle cx="479.7" cy="111.7" r="2.2"/>
<circle cx="506.9" cy="20.7" r="2.2"/>
<circle cx="509.5" cy="19.5" r="2.2"/>
<circle cx="511.2" cy="18.8" r="2.2"/>
</g>
<clipPath id="cl2"><rect x="449.5" y="181.5" width="106.5" height="112.8"/></clipPath>
<g clip-path="url(#cl2)" fill="#4282b6">
<path d="M464.2,180.0 L503.7,180.0 L502.7,185.6 L501.8,191.1 L501.3,194.8 L499.9,198.6 L499.0,203.2 L498.6,207.8 L496.7,211.5 L494.4,212.0 L493.5,209.7 L492.1,211.5 L491.1,217.1 L490.7,222.7 L488.8,223.6 L491.1,227.3 L488.8,228.7 L486.0,227.8 L484.2,225.5 L482.3,224.5 L480.5,228.2 L479.5,233.8 L479.1,240.0 L477.7,241.7 L475.8,244.5 L473.5,245.4 L473.0,249.1 L473.5,254.7 L474.4,257.5 L472.1,260.3 L469.3,263.0 L467.0,262.1 L466.1,258.4 L465.6,255.6 L461.9,254.7 L461.5,257.5 L462.4,259.8 L460.1,262.1 L458.2,264.9 L460.5,269.5 L459.6,274.2 L457.7,277.9 L456.8,283.5 L455.4,285.8 L453.6,284.4 L453.6,279.7 L453.1,265.8 L453.6,247.3 L453.6,240.0 L455.4,235.7 L455.9,230.1 L454.5,223.6 L455.0,219.0 L455.4,215.3 L454.5,212.9 L455.9,207.8 L458.2,207.8 L457.7,202.3 L459.1,198.6 L462.8,196.7 L463.8,191.1 L462.8,187.4 Z" stroke="#4282b6" stroke-width="0.8" stroke-linejoin="round"/>
<circle cx="456.3" cy="181.4" r="2.2"/>
<circle cx="459.1" cy="189.7" r="2.2"/>
<circle cx="506.0" cy="183.2" r="2.2"/>
<circle cx="506.0" cy="190.2" r="2.2"/>
</g>
<clipPath id="cl3"><rect x="450.3" y="342.5" width="104.7" height="108.3"/></clipPath>
<g clip-path="url(#cl3)" fill="#4282b6">
<path d="M465.3,341.0 L531.1,341.0 L529.7,346.5 L527.8,348.3 L529.7,352.1 L532.5,354.8 L530.6,358.6 L531.1,363.2 L527.8,363.2 L525.0,366.9 L526.9,369.2 L523.2,371.5 L523.7,375.3 L524.6,379.0 L521.3,381.7 L519.5,383.6 L518.1,386.4 L515.8,389.2 L513.9,391.9 L513.9,395.7 L514.4,398.0 L513.5,401.5 L511.1,403.3 L509.3,401.5 L508.3,397.0 L503.7,396.9 L501.0,397.8 L498.2,399.6 L497.3,403.3 L495.5,405.2 L492.7,402.4 L491.7,398.7 L489.9,399.6 L489.0,402.4 L488.0,406.1 L487.6,411.7 L488.0,418.2 L486.6,422.8 L484.3,423.8 L482.5,421.9 L482.0,416.3 L482.0,406.1 L481.5,401.5 L477.8,402.9 L476.0,402.4 L473.2,404.3 L470.9,406.1 L473.7,408.0 L472.3,409.4 L468.6,408.9 L465.8,409.8 L467.6,411.7 L466.7,414.5 L463.9,416.3 L461.1,419.1 L462.1,422.8 L460.2,427.5 L457.4,429.8 L455.1,428.4 L454.6,425.6 L455.6,421.9 L459.3,420.0 L460.2,416.3 L458.3,413.6 L457.4,409.8 L456.5,406.1 L455.6,399.6 L456.5,397.5 L459.3,391.9 L461.1,383.6 L457.9,378.0 L460.2,374.3 L464.8,373.4 L463.9,366.0 L465.3,358.6 L466.2,349.3 Z" stroke="#4282b6" stroke-width="0.8" stroke-linejoin="round"/>
<circle cx="463.5" cy="351.6" r="2.2"/>
<circle cx="523.0" cy="385.0" r="2.2"/>
<circle cx="455.8" cy="434.9" r="2.2"/>
<circle cx="459.1" cy="441.8" r="2.2"/>
<circle cx="456.2" cy="413.9" r="2.2"/>
<ellipse cx="466.0" cy="421.9" rx="1.9" ry="3.7"/>
<ellipse cx="492.5" cy="410.3" rx="1.6" ry="2.8"/>
<path d="M472.3,420.0 L473.7,423.8 L472.3,427.5 L471.3,432.1 L471.3,435.4" fill="none" stroke="#4282b6" stroke-width="3.6" stroke-linecap="round" stroke-linejoin="round"/>
</g>
<clipPath id="cl4"><rect x="448.9" y="504.0" width="106.3" height="113.2"/></clipPath>
<g clip-path="url(#cl4)" fill="#4282b6">
<path d="M466.1,503.0 L522.3,503.0 L523.2,511.3 L524.6,515.9 L526.0,520.6 L525.5,526.1 L524.1,530.8 L522.3,533.5 L522.7,537.3 L519.9,539.1 L516.2,536.3 L514.8,539.1 L516.7,541.9 L521.3,544.7 L520.4,547.5 L515.8,548.4 L513.0,550.2 L510.2,552.1 L509.3,557.7 L507.4,560.0 L509.3,560.8 L507.4,564.5 L509.3,569.1 L506.5,570.1 L503.7,571.9 L503.7,576.6 L500.0,580.3 L496.2,579.3 L493.5,582.1 L491.6,578.4 L487.9,576.6 L488.8,571.0 L487.0,567.3 L485.1,566.3 L483.3,569.1 L481.4,571.9 L478.6,571.0 L474.9,568.2 L471.2,568.2 L469.8,570.1 L466.6,571.9 L463.8,575.2 L461.0,572.8 L461.9,565.4 L460.1,562.6 L461.0,560.0 L461.9,557.7 L460.5,554.9 L459.1,552.1 L461.5,548.4 L461.9,545.6 L464.2,541.9 L463.8,539.1 L464.2,535.4 L463.3,531.7 L462.4,528.0 L463.3,524.7 L466.6,521.5 L468.4,518.7 L472.1,515.9 L469.8,516.4 L466.1,514.1 L465.6,510.3 L467.0,507.6 Z" stroke="#4282b6" stroke-width="0.8" stroke-linejoin="round"/>
<path d="M455.9,568.2 L453.6,577.5 L452.6,584.0 L453.6,589.5 L452.2,597.0 L452.6,602.5 L454.5,604.4 L456.8,601.6 L458.2,604.4 L459.6,608.6 L461.9,607.2 L462.8,604.4 L461.9,597.9 L460.1,595.1 L457.3,593.3 L458.2,589.5 L461.9,587.7 L463.3,584.0 L461.9,581.2 L460.1,577.5 L459.1,574.7 L460.1,570.1 L459.1,567.3 Z" stroke="#4282b6" stroke-width="0.8" stroke-linejoin="round"/>
<circle cx="454.3" cy="542.4" r="2.2"/>
<circle cx="454.5" cy="540.2" r="2.2"/>
<circle cx="460.5" cy="544.2" r="2.2"/>
<circle cx="453.8" cy="548.4" r="2.2"/>
<circle cx="456.8" cy="557.5" r="2.2"/>
<circle cx="523.9" cy="541.9" r="2.2"/>
<circle cx="517.2" cy="552.1" r="2.2"/>
<circle cx="513.5" cy="555.8" r="2.2"/>
<circle cx="517.2" cy="557.7" r="2.2"/>
<circle cx="513.9" cy="563.6" r="2.2"/>
<circle cx="516.7" cy="558.0" r="2.2"/>
<circle cx="478.6" cy="574.7" r="2.2"/>
</g>
<path d="M331.1,33.4 L338.7,23.1 L346.2,25.3 L348.4,35.6 L341.4,45.3 L334.3,43.7 L331.1,33.4" fill="none" stroke="#4ea8ee" stroke-width="4.5" stroke-linecap="round" stroke-linejoin="round"/>
<path d="M331.1,33.4 L324.1,34.5 L319.7,44.2 L326.2,50.2 L334.3,43.7" fill="none" stroke="#4ea8ee" stroke-width="4.5" stroke-linecap="round" stroke-linejoin="round"/>
<path d="M326.2,50.2 L324.1,63.7 L328.9,71.3" fill="none" stroke="#4ea8ee" stroke-width="4.5" stroke-linecap="round" stroke-linejoin="round"/>
<path d="M328.9,71.3 L357.6,69.1" fill="none" stroke="#4ea8ee" stroke-width="4.5" stroke-linecap="round" stroke-linejoin="round"/>
<path d="M357.6,69.1 L360.8,56.7 L372.2,57.2 L370.6,66.9 L364.1,74.0 L357.6,69.1" fill="none" stroke="#4ea8ee" stroke-width="4.5" stroke-linecap="round" stroke-linejoin="round"/>
<path d="M328.9,71.3 L326.2,82.1 L325.7,86.4" fill="none" stroke="#4ea8ee" stroke-width="4.5" stroke-linecap="round" stroke-linejoin="round"/>
<path d="M364.1,74.0 L361.9,81.0 L360.8,84.2" fill="none" stroke="#4ea8ee" stroke-width="4.5" stroke-linecap="round" stroke-linejoin="round"/>
<path d="M327.3,34.1 L324.1,34.5 L322.1,38.8" fill="none" stroke="#2a16f0" stroke-width="4.5" stroke-linecap="round" stroke-linejoin="round"/>
<path d="M360.6,71.5 L364.1,74.0 L367.1,71.3" fill="none" stroke="#2a16f0" stroke-width="4.5" stroke-linecap="round" stroke-linejoin="round"/>
<path d="M337.3,70.2 L341.4,69.9" fill="none" stroke="#f04848" stroke-width="4.5" stroke-linecap="round" stroke-linejoin="round"/>
<path d="M335.0,90.8 L350.7,90.8" fill="none" stroke="#c8c850" stroke-width="1.7" stroke-linecap="butt" stroke-linejoin="round" stroke-dasharray="2 1.6"/>
<path d="M349.4,107.2 L366.5,103.2" fill="none" stroke="#c8c850" stroke-width="1.7" stroke-linecap="butt" stroke-linejoin="round" stroke-dasharray="2 1.6"/>
<path d="M347.4,113.1 L354.0,130.2" fill="none" stroke="#c8c850" stroke-width="1.7" stroke-linecap="butt" stroke-linejoin="round" stroke-dasharray="2 1.6"/>
<path d="M325.8,83.5 L314.6,86.8" fill="none" stroke="#4ea8ee" stroke-width="4.5" stroke-linecap="round" stroke-linejoin="round"/>
<path d="M325.8,83.5 L333.0,90.1 L331.0,97.3 L335.6,105.2 L336.9,109.8 L346.8,109.4" fill="none" stroke="#4ea8ee" stroke-width="4.5" stroke-linecap="round" stroke-linejoin="round"/>
<path d="M336.9,109.8 L332.3,117.0" fill="none" stroke="#4ea8ee" stroke-width="4.5" stroke-linecap="round" stroke-linejoin="round"/>
<path d="M332.3,118.4 L319.9,121.6 L315.9,130.2 L325.8,137.4 L336.3,130.2 L332.3,118.4" fill="none" stroke="#4ea8ee" stroke-width="4.5" stroke-linecap="round" stroke-linejoin="round"/>
<path d="M336.3,130.2 L344.2,134.8 L349.4,134.8 L359.9,136.8 L367.8,140.7 L378.3,134.8 L383.6,138.1" fill="none" stroke="#4ea8ee" stroke-width="4.5" stroke-linecap="round" stroke-linejoin="round"/>
<path d="M378.3,134.8 L375.7,123.6 L378.3,119.7 L382.9,105.2 L379.6,103.2 L386.9,98.6" fill="none" stroke="#4ea8ee" stroke-width="4.5" stroke-linecap="round" stroke-linejoin="round"/>
<path d="M379.6,103.2 L367.8,102.6 L367.2,93.4 L365.2,88.1 L360.6,82.9 L353.4,90.1" fill="none" stroke="#4ea8ee" stroke-width="4.5" stroke-linecap="round" stroke-linejoin="round"/>
<path d="M360.6,82.9 L363.2,77.6" fill="none" stroke="#4ea8ee" stroke-width="4.5" stroke-linecap="round" stroke-linejoin="round"/>
<path d="M363.2,80.3 L369.1,80.3 L373.7,79.6" fill="none" stroke="#4ea8ee" stroke-width="4.5" stroke-linecap="round" stroke-linejoin="round"/>
<path d="M331.0,97.3 L326.4,106.5" fill="none" stroke="#6cbaf5" stroke-width="4.5" stroke-linecap="round" stroke-linejoin="round"/>
<path d="M329.7,87.5 L333.0,90.1 L332.1,94.7" fill="none" stroke="#2a16f0" stroke-width="4.5" stroke-linecap="round" stroke-linejoin="round"/>
<path d="M334.7,114.4 L332.3,118.4 L327.7,119.7" fill="none" stroke="#2a16f0" stroke-width="4.5" stroke-linecap="round" stroke-linejoin="round"/>
<path d="M349.4,134.8 L359.3,136.5" fill="none" stroke="#2a16f0" stroke-width="4.5" stroke-linecap="round" stroke-linejoin="round"/>
<path d="M376.4,126.9 L375.7,122.3 L378.3,119.7" fill="none" stroke="#2a16f0" stroke-width="4.5" stroke-linecap="round" stroke-linejoin="round"/>
<path d="M373.1,103.1 L367.8,102.6 L367.4,98.0" fill="none" stroke="#2a16f0" stroke-width="4.5" stroke-linecap="round" stroke-linejoin="round"/>
<path d="M361.9,80.3 L363.2,75.7" fill="none" stroke="#2a16f0" stroke-width="4.5" stroke-linecap="round" stroke-linejoin="round"/>
<path d="M319.9,85.5 L314.6,86.8" fill="none" stroke="#f04848" stroke-width="4.5" stroke-linecap="round" stroke-linejoin="round"/>
<path d="M341.5,109.6 L346.8,109.4" fill="none" stroke="#f04848" stroke-width="4.5" stroke-linecap="round" stroke-linejoin="round"/>
<path d="M379.6,135.4 L383.6,138.1" fill="none" stroke="#f04848" stroke-width="4.5" stroke-linecap="round" stroke-linejoin="round"/>
<path d="M383.6,100.9 L386.9,98.6" fill="none" stroke="#f04848" stroke-width="4.5" stroke-linecap="round" stroke-linejoin="round"/>
<path d="M356.0,87.7 L353.4,90.1" fill="none" stroke="#f04848" stroke-width="4.5" stroke-linecap="round" stroke-linejoin="round"/>
<path d="M369.8,80.0 L373.7,79.6" fill="none" stroke="#f04848" stroke-width="4.5" stroke-linecap="round" stroke-linejoin="round"/>
<path d="M344.4,136.8 L345.2,138.1" fill="none" stroke="#f04848" stroke-width="4.5" stroke-linecap="round" stroke-linejoin="round"/>
<path d="M379.6,120.3 L388.8,128.2" stroke="#7a70f0" stroke-width="4.2" stroke-linecap="round"/>
<path d="M320.1,222.7 L327.7,217.4" fill="none" stroke="#c8c850" stroke-width="1.7" stroke-linecap="butt" stroke-linejoin="round" stroke-dasharray="2 1.6"/>
<path d="M341.7,213.4 L341.7,227.4" fill="none" stroke="#c8c850" stroke-width="1.7" stroke-linecap="butt" stroke-linejoin="round" stroke-dasharray="2 1.6"/>
<path d="M344.1,227.4 L354.6,216.9" fill="none" stroke="#c8c850" stroke-width="1.7" stroke-linecap="butt" stroke-linejoin="round" stroke-dasharray="2 1.6"/>
<path d="M345.2,230.6 L360.4,230.6" fill="none" stroke="#c8c850" stroke-width="1.7" stroke-linecap="butt" stroke-linejoin="round" stroke-dasharray="2 1.6"/>
<path d="M338.2,249.6 L348.7,246.6" fill="none" stroke="#c8c850" stroke-width="1.7" stroke-linecap="butt" stroke-linejoin="round" stroke-dasharray="2 1.6"/>
<path d="M320.7,199.3 L300.3,225.6" fill="none" stroke="#4ea8ee" stroke-width="3.8" stroke-linecap="round" stroke-linejoin="round"/>
<path d="M306.1,218.6 L318.9,227.1" fill="none" stroke="#4ea8ee" stroke-width="3.8" stroke-linecap="round" stroke-linejoin="round"/>
<path d="M320.7,201.1 L328.9,205.2 L337.0,201.7 L339.4,194.7" fill="none" stroke="#4ea8ee" stroke-width="3.8" stroke-linecap="round" stroke-linejoin="round"/>
<path d="M328.9,205.2 L330.0,213.4 L331.8,218.0 L332.4,228.5 L330.0,233.2" fill="none" stroke="#4ea8ee" stroke-width="3.8" stroke-linecap="round" stroke-linejoin="round"/>
<path d="M337.0,201.7 L339.4,205.2 L345.2,207.5 L349.9,206.4 L358.1,204.6" fill="none" stroke="#4ea8ee" stroke-width="3.8" stroke-linecap="round" stroke-linejoin="round"/>
<path d="M345.2,207.5 L358.1,206.4 L365.7,206.4" fill="none" stroke="#4ea8ee" stroke-width="3.8" stroke-linecap="round" stroke-linejoin="round"/>
<path d="M358.1,206.4 L355.7,213.4 L363.9,219.2 L366.2,228.5 L373.2,231.5" fill="none" stroke="#4ea8ee" stroke-width="3.8" stroke-linecap="round" stroke-linejoin="round"/>
<path d="M332.4,216.9 L338.8,214.8" fill="none" stroke="#4ea8ee" stroke-width="3.8" stroke-linecap="round" stroke-linejoin="round"/>
<path d="M318.9,227.1 L327.1,233.0 L319.5,236.1" fill="none" stroke="#4ea8ee" stroke-width="3.8" stroke-linecap="round" stroke-linejoin="round"/>
<path d="M327.1,233.0 L330.0,237.9 L333.5,247.2 L331.2,255.4 L321.9,258.3" fill="none" stroke="#4ea8ee" stroke-width="3.8" stroke-linecap="round" stroke-linejoin="round"/>
<path d="M331.2,233.4 L341.1,231.5" fill="none" stroke="#4ea8ee" stroke-width="3.8" stroke-linecap="round" stroke-linejoin="round"/>
<path d="M366.2,228.5 L363.3,230.3 L361.6,239.1 L359.2,243.7 L351.1,246.1" fill="none" stroke="#4ea8ee" stroke-width="3.8" stroke-linecap="round" stroke-linejoin="round"/>
<path d="M359.2,243.7 L363.9,248.4 L372.7,249.0" fill="none" stroke="#4ea8ee" stroke-width="3.8" stroke-linecap="round" stroke-linejoin="round"/>
<path d="M360.4,248.4 L358.6,255.4" fill="none" stroke="#4ea8ee" stroke-width="3.8" stroke-linecap="round" stroke-linejoin="round"/>
<path d="M318.9,201.7 L314.3,207.5" fill="none" stroke="#2a16f0" stroke-width="3.8" stroke-linecap="round" stroke-linejoin="round"/>
<path d="M328.3,212.2 L331.2,218.0" fill="none" stroke="#2a16f0" stroke-width="3.8" stroke-linecap="round" stroke-linejoin="round"/>
<path d="M354.6,213.4 L358.6,217.1" fill="none" stroke="#2a16f0" stroke-width="3.8" stroke-linecap="round" stroke-linejoin="round"/>
<path d="M326.5,231.5 L330.6,234.4" fill="none" stroke="#2a16f0" stroke-width="3.8" stroke-linecap="round" stroke-linejoin="round"/>
<path d="M332.1,244.9 L335.3,251.3" fill="none" stroke="#2a16f0" stroke-width="3.8" stroke-linecap="round" stroke-linejoin="round"/>
<path d="M362.2,228.5 L364.8,233.4" fill="none" stroke="#2a16f0" stroke-width="3.8" stroke-linecap="round" stroke-linejoin="round"/>
<path d="M338.4,197.0 L339.6,194.1" fill="none" stroke="#f04848" stroke-width="3.8" stroke-linecap="round" stroke-linejoin="round"/>
<path d="M339.4,205.2 L344.1,207.3" fill="none" stroke="#f04848" stroke-width="3.8" stroke-linecap="round" stroke-linejoin="round"/>
<path d="M362.7,206.4 L366.0,206.4" fill="none" stroke="#f04848" stroke-width="3.8" stroke-linecap="round" stroke-linejoin="round"/>
<path d="M370.9,230.9 L373.5,231.8" fill="none" stroke="#f04848" stroke-width="3.8" stroke-linecap="round" stroke-linejoin="round"/>
<path d="M337.0,215.1 L340.0,214.5" fill="none" stroke="#f04848" stroke-width="3.8" stroke-linecap="round" stroke-linejoin="round"/>
<path d="M311.4,222.1 L318.9,227.1" fill="none" stroke="#f04848" stroke-width="3.8" stroke-linecap="round" stroke-linejoin="round"/>
<path d="M338.2,232.0 L341.7,230.9" fill="none" stroke="#f04848" stroke-width="3.8" stroke-linecap="round" stroke-linejoin="round"/>
<path d="M323.0,258.1 L321.3,258.3" fill="none" stroke="#f04848" stroke-width="3.8" stroke-linecap="round" stroke-linejoin="round"/>
<path d="M351.6,246.1 L349.9,245.8" fill="none" stroke="#f04848" stroke-width="3.8" stroke-linecap="round" stroke-linejoin="round"/>
<path d="M369.7,249.0 L373.0,249.0" fill="none" stroke="#f04848" stroke-width="3.8" stroke-linecap="round" stroke-linejoin="round"/>
<path d="M359.0,253.6 L358.6,255.4" fill="none" stroke="#f04848" stroke-width="3.8" stroke-linecap="round" stroke-linejoin="round"/>
<path d="M337.4,249.7 L349.7,246.2" fill="none" stroke="#c8c850" stroke-width="1.7" stroke-linecap="butt" stroke-linejoin="round" stroke-dasharray="2 1.6"/>
<path d="M348.5,262.5 L357.9,258.4" fill="none" stroke="#c8c850" stroke-width="1.7" stroke-linecap="butt" stroke-linejoin="round" stroke-dasharray="2 1.6"/>
<path d="M333.4,245.0 L334.5,252.0 L331.0,257.8 L321.1,259.0" fill="none" stroke="#4ea8ee" stroke-width="3.8" stroke-linecap="round" stroke-linejoin="round"/>
<path d="M331.0,257.8 L336.3,265.4 L346.2,264.3 L359.1,260.8" fill="none" stroke="#4ea8ee" stroke-width="3.8" stroke-linecap="round" stroke-linejoin="round"/>
<path d="M336.3,265.4 L336.9,273.0 L342.1,282.4 L343.9,296.4 L351.5,304.6 L357.9,301.1" fill="none" stroke="#4ea8ee" stroke-width="3.8" stroke-linecap="round" stroke-linejoin="round"/>
<path d="M351.5,304.6 L352.0,315.1" fill="none" stroke="#4ea8ee" stroke-width="3.8" stroke-linecap="round" stroke-linejoin="round"/>
<path d="M361.4,256.7 L371.9,258.4 L374.8,266.6 L364.9,271.3 L359.1,262.5 L361.4,256.7" fill="none" stroke="#4ea8ee" stroke-width="3.8" stroke-linecap="round" stroke-linejoin="round"/>
<path d="M361.4,247.3 L370.7,249.1" fill="none" stroke="#4ea8ee" stroke-width="3.8" stroke-linecap="round" stroke-linejoin="round"/>
<path d="M360.2,245.0 L361.4,252.0" fill="none" stroke="#4ea8ee" stroke-width="3.8" stroke-linecap="round" stroke-linejoin="round"/>
<path d="M332.8,246.8 L335.1,253.2" fill="none" stroke="#2a16f0" stroke-width="3.8" stroke-linecap="round" stroke-linejoin="round"/>
<path d="M342.7,263.9 L348.0,265.8" fill="none" stroke="#2a16f0" stroke-width="3.8" stroke-linecap="round" stroke-linejoin="round"/>
<path d="M342.5,295.2 L345.0,302.2" fill="none" stroke="#2a16f0" stroke-width="3.8" stroke-linecap="round" stroke-linejoin="round"/>
<path d="M356.1,299.9 L359.6,301.6" fill="none" stroke="#2a16f0" stroke-width="3.8" stroke-linecap="round" stroke-linejoin="round"/>
<path d="M352.0,310.4 L352.0,315.1" fill="none" stroke="#2a16f0" stroke-width="3.8" stroke-linecap="round" stroke-linejoin="round"/>
<path d="M360.2,255.7 L365.8,256.7" fill="none" stroke="#2a16f0" stroke-width="3.8" stroke-linecap="round" stroke-linejoin="round"/>
<path d="M321.1,259.0 L325.8,258.4" fill="none" stroke="#f04848" stroke-width="3.8" stroke-linecap="round" stroke-linejoin="round"/>
<path d="M357.9,257.8 L360.8,253.8" fill="none" stroke="#f04848" stroke-width="3.8" stroke-linecap="round" stroke-linejoin="round"/>
<path d="M342.7,267.8 L343.3,267.8" fill="none" stroke="#f04848" stroke-width="3.8" stroke-linecap="round" stroke-linejoin="round"/>
<path d="M368.4,249.1 L373.1,249.4" fill="none" stroke="#f04848" stroke-width="3.8" stroke-linecap="round" stroke-linejoin="round"/>
<path d="M350.9,246.2 L352.6,246.2" fill="none" stroke="#f04848" stroke-width="3.8" stroke-linecap="round" stroke-linejoin="round"/>
<path d="M301.1,388.4 L314.9,382.4" fill="none" stroke="#c8c850" stroke-width="1.7" stroke-linecap="butt" stroke-linejoin="round" stroke-dasharray="2 1.6"/>
<path d="M327.4,377.2 L342.5,373.2" fill="none" stroke="#c8c850" stroke-width="1.7" stroke-linecap="butt" stroke-linejoin="round" stroke-dasharray="2 1.6"/>
<path d="M329.4,380.5 L331.4,388.4" fill="none" stroke="#c8c850" stroke-width="1.7" stroke-linecap="butt" stroke-linejoin="round" stroke-dasharray="2 1.6"/>
<path d="M335.3,391.6 L353.0,390.3" fill="none" stroke="#c8c850" stroke-width="1.7" stroke-linecap="butt" stroke-linejoin="round" stroke-dasharray="2 1.6"/>
<path d="M333.3,412.7 L343.8,409.4" fill="none" stroke="#c8c850" stroke-width="1.7" stroke-linecap="butt" stroke-linejoin="round" stroke-dasharray="2 1.6"/>
<path d="M323.5,348.9 L326.1,368.0" fill="none" stroke="#4ea8ee" stroke-width="3.9" stroke-linecap="round" stroke-linejoin="round"/>
<path d="M326.1,368.0 L334.0,364.1 L345.8,366.0 L352.4,363.4" fill="none" stroke="#4ea8ee" stroke-width="3.9" stroke-linecap="round" stroke-linejoin="round"/>
<path d="M320.2,355.5 L320.2,362.1 L314.3,369.3 L303.8,369.3 L295.2,375.2 L293.3,384.4 L288.0,388.4" fill="none" stroke="#4ea8ee" stroke-width="3.9" stroke-linecap="round" stroke-linejoin="round"/>
<path d="M293.3,384.4 L299.8,389.7" fill="none" stroke="#4ea8ee" stroke-width="3.9" stroke-linecap="round" stroke-linejoin="round"/>
<path d="M314.3,369.3 L316.2,380.5 L323.5,382.4 L326.1,379.2" fill="none" stroke="#4ea8ee" stroke-width="3.9" stroke-linecap="round" stroke-linejoin="round"/>
<path d="M323.5,382.4 L324.1,393.6 L322.2,397.6" fill="none" stroke="#4ea8ee" stroke-width="3.9" stroke-linecap="round" stroke-linejoin="round"/>
<path d="M345.8,366.0 L345.8,372.6 L353.7,374.6 L358.9,383.1 L368.1,384.4" fill="none" stroke="#4ea8ee" stroke-width="3.9" stroke-linecap="round" stroke-linejoin="round"/>
<path d="M358.9,383.1 L356.3,387.0 L357.6,394.9 L361.6,393.6 L377.3,394.3" fill="none" stroke="#4ea8ee" stroke-width="3.9" stroke-linecap="round" stroke-linejoin="round"/>
<path d="M357.6,394.9 L357.6,401.5 L349.8,408.1 L344.5,409.4" fill="none" stroke="#4ea8ee" stroke-width="3.9" stroke-linecap="round" stroke-linejoin="round"/>
<path d="M355.0,409.4 L351.1,414.6" fill="none" stroke="#4ea8ee" stroke-width="3.9" stroke-linecap="round" stroke-linejoin="round"/>
<path d="M324.1,393.6 L331.4,393.6" fill="none" stroke="#4ea8ee" stroke-width="3.9" stroke-linecap="round" stroke-linejoin="round"/>
<path d="M322.2,397.6 L314.3,402.8 L309.0,400.2 L306.4,412.0" fill="none" stroke="#4ea8ee" stroke-width="3.9" stroke-linecap="round" stroke-linejoin="round"/>
<path d="M314.3,402.8 L319.5,400.2 L327.4,409.4 L333.3,413.3" fill="none" stroke="#4ea8ee" stroke-width="3.9" stroke-linecap="round" stroke-linejoin="round"/>
<path d="M320.8,397.6 L313.0,406.8" fill="none" stroke="#4ea8ee" stroke-width="3.9" stroke-linecap="round" stroke-linejoin="round"/>
<path d="M324.1,366.7 L326.1,368.0 L328.1,369.0" fill="none" stroke="#2a16f0" stroke-width="3.9" stroke-linecap="round" stroke-linejoin="round"/>
<path d="M314.9,377.8 L318.9,383.1" fill="none" stroke="#2a16f0" stroke-width="3.9" stroke-linecap="round" stroke-linejoin="round"/>
<path d="M321.5,396.9 L323.5,398.9" fill="none" stroke="#2a16f0" stroke-width="3.9" stroke-linecap="round" stroke-linejoin="round"/>
<path d="M344.5,371.3 L348.4,373.9" fill="none" stroke="#2a16f0" stroke-width="3.9" stroke-linecap="round" stroke-linejoin="round"/>
<path d="M355.0,386.4 L357.6,392.3" fill="none" stroke="#2a16f0" stroke-width="3.9" stroke-linecap="round" stroke-linejoin="round"/>
<path d="M353.7,409.4 L351.7,414.0" fill="none" stroke="#2a16f0" stroke-width="3.9" stroke-linecap="round" stroke-linejoin="round"/>
<path d="M326.8,408.1 L333.3,413.3" fill="none" stroke="#2a16f0" stroke-width="3.9" stroke-linecap="round" stroke-linejoin="round"/>
<path d="M349.1,364.4 L353.0,363.4" fill="none" stroke="#f04848" stroke-width="3.9" stroke-linecap="round" stroke-linejoin="round"/>
<path d="M320.2,355.5 L320.5,358.8" fill="none" stroke="#f04848" stroke-width="3.9" stroke-linecap="round" stroke-linejoin="round"/>
<path d="M295.9,387.7 L299.8,389.9" fill="none" stroke="#f04848" stroke-width="3.9" stroke-linecap="round" stroke-linejoin="round"/>
<path d="M325.4,378.9 L327.2,379.8" fill="none" stroke="#f04848" stroke-width="3.9" stroke-linecap="round" stroke-linejoin="round"/>
<path d="M364.9,384.2 L368.4,384.4" fill="none" stroke="#f04848" stroke-width="3.9" stroke-linecap="round" stroke-linejoin="round"/>
<path d="M343.2,409.1 L348.4,408.7" fill="none" stroke="#f04848" stroke-width="3.9" stroke-linecap="round" stroke-linejoin="round"/>
<path d="M328.7,394.9 L332.7,393.2" fill="none" stroke="#f04848" stroke-width="3.9" stroke-linecap="round" stroke-linejoin="round"/>
<path d="M308.8,398.6 L310.3,402.8" fill="none" stroke="#d8c030" stroke-width="3.9" stroke-linecap="round" stroke-linejoin="round"/>
<path d="M333.6,412.5 L344.2,409.9" fill="none" stroke="#c8c850" stroke-width="1.7" stroke-linecap="butt" stroke-linejoin="round" stroke-dasharray="2 1.6"/>
<path d="M345.5,411.8 L345.5,418.4" fill="none" stroke="#c8c850" stroke-width="1.7" stroke-linecap="butt" stroke-linejoin="round" stroke-dasharray="2 1.6"/>
<path d="M323.1,400.0 L325.8,407.9 L331.7,413.1 L331.0,422.3 L323.1,425.0" fill="none" stroke="#4ea8ee" stroke-width="3.9" stroke-linecap="round" stroke-linejoin="round"/>
<path d="M331.0,422.3 L344.2,427.6 L346.8,428.9 L348.1,436.8 L344.8,444.7" fill="none" stroke="#4ea8ee" stroke-width="3.9" stroke-linecap="round" stroke-linejoin="round"/>
<path d="M348.1,436.8 L354.7,436.8 L365.2,442.0 L371.8,447.3 L383.6,449.9 L395.4,457.8 L388.8,455.2 L378.3,452.6 L366.5,446.0 L365.2,442.0" fill="none" stroke="#4ea8ee" stroke-width="3.9" stroke-linecap="round" stroke-linejoin="round"/>
<path d="M344.8,408.5 L353.4,406.6 L358.6,400.0" fill="none" stroke="#4ea8ee" stroke-width="3.9" stroke-linecap="round" stroke-linejoin="round"/>
<path d="M353.4,406.6 L356.0,409.9 L354.7,418.4 L349.4,421.0" fill="none" stroke="#4ea8ee" stroke-width="3.9" stroke-linecap="round" stroke-linejoin="round"/>
<path d="M354.7,418.4 L358.0,417.7" fill="none" stroke="#4ea8ee" stroke-width="3.9" stroke-linecap="round" stroke-linejoin="round"/>
<path d="M344.2,421.7 L350.7,425.0 L356.0,431.5 L354.7,436.8" fill="none" stroke="#4ea8ee" stroke-width="3.9" stroke-linecap="round" stroke-linejoin="round"/>
<path d="M350.7,425.0 L359.9,430.2 L370.4,424.3" fill="none" stroke="#4ea8ee" stroke-width="3.9" stroke-linecap="round" stroke-linejoin="round"/>
<path d="M328.4,410.5 L333.0,415.1" fill="none" stroke="#2a16f0" stroke-width="3.9" stroke-linecap="round" stroke-linejoin="round"/>
<path d="M345.5,427.6 L348.1,433.5" fill="none" stroke="#2a16f0" stroke-width="3.9" stroke-linecap="round" stroke-linejoin="round"/>
<path d="M322.5,425.0 L327.7,423.6" fill="none" stroke="#f04848" stroke-width="3.9" stroke-linecap="round" stroke-linejoin="round"/>
<path d="M344.4,442.0 L344.2,445.3" fill="none" stroke="#f04848" stroke-width="3.9" stroke-linecap="round" stroke-linejoin="round"/>
<path d="M344.2,408.5 L348.1,408.1" fill="none" stroke="#f04848" stroke-width="3.9" stroke-linecap="round" stroke-linejoin="round"/>
<path d="M369.8,449.3 L374.4,451.5" stroke="#6a60f0" stroke-width="3.5" stroke-linecap="round"/>
<path d="M355.3,409.2 L356.6,413.1" stroke="#6a60f0" stroke-width="3.5" stroke-linecap="round"/>
<path d="M355.3,430.2 L356.0,432.8" stroke="#6a60f0" stroke-width="3.5" stroke-linecap="round"/>
<path d="M334.2,553.2 L343.0,547.3" fill="none" stroke="#c8c850" stroke-width="1.7" stroke-linecap="butt" stroke-linejoin="round" stroke-dasharray="2 1.6"/>
<path d="M341.5,569.2 L353.2,566.3" fill="none" stroke="#c8c850" stroke-width="1.7" stroke-linecap="butt" stroke-linejoin="round" stroke-dasharray="2 1.6"/>
<path d="M326.2,512.3 L322.5,524.0 L321.1,529.8 L318.1,537.1 L318.9,545.9 L321.8,554.6 L324.0,560.5 L325.4,567.8 L326.9,573.6 L322.5,578.0" fill="none" stroke="#4ea8ee" stroke-width="4.0" stroke-linecap="round" stroke-linejoin="round"/>
<path d="M324.0,560.5 L332.0,555.4 L341.5,551.7 L348.8,547.3 L356.1,553.2 L356.1,564.9" fill="none" stroke="#4ea8ee" stroke-width="4.0" stroke-linecap="round" stroke-linejoin="round"/>
<path d="M356.1,553.2 L366.3,549.5 L375.1,554.6 L382.4,553.2 L380.9,547.3" fill="none" stroke="#4ea8ee" stroke-width="4.0" stroke-linecap="round" stroke-linejoin="round"/>
<path d="M382.4,553.2 L392.6,563.4 L402.8,556.1 L405.7,566.3 L398.4,572.2 L391.1,571.4 L392.6,563.4" fill="none" stroke="#4ea8ee" stroke-width="4.0" stroke-linecap="round" stroke-linejoin="round"/>
<path d="M391.1,571.4 L383.8,575.1 L378.0,578.0" fill="none" stroke="#4ea8ee" stroke-width="4.0" stroke-linecap="round" stroke-linejoin="round"/>
<path d="M348.8,547.3 L340.0,548.8 L336.4,540.0 L345.9,530.5 L354.6,536.4 L351.7,544.4 L348.8,547.3" fill="none" stroke="#4ea8ee" stroke-width="4.0" stroke-linecap="round" stroke-linejoin="round"/>
<path d="M354.6,536.4 L356.1,539.3" fill="none" stroke="#4ea8ee" stroke-width="4.0" stroke-linecap="round" stroke-linejoin="round"/>
<path d="M351.7,544.4 L345.9,543.7" fill="none" stroke="#4ea8ee" stroke-width="4.0" stroke-linecap="round" stroke-linejoin="round"/>
<path d="M332.0,559.0 L329.1,566.3" fill="none" stroke="#4ea8ee" stroke-width="4.0" stroke-linecap="round" stroke-linejoin="round"/>
<path d="M332.7,570.7 L343.0,568.5 L359.0,572.2 L357.6,577.3 L345.9,578.0 L334.2,573.6" fill="none" stroke="#4ea8ee" stroke-width="4.0" stroke-linecap="round" stroke-linejoin="round"/>
<path d="M326.2,512.3 L324.0,518.1" fill="none" stroke="#2a16f0" stroke-width="4.0" stroke-linecap="round" stroke-linejoin="round"/>
<path d="M321.8,526.9 L320.3,533.5" fill="none" stroke="#2a16f0" stroke-width="4.0" stroke-linecap="round" stroke-linejoin="round"/>
<path d="M329.1,556.8 L333.5,554.6" fill="none" stroke="#2a16f0" stroke-width="4.0" stroke-linecap="round" stroke-linejoin="round"/>
<path d="M347.3,545.1 L353.2,551.7" fill="none" stroke="#2a16f0" stroke-width="4.0" stroke-linecap="round" stroke-linejoin="round"/>
<path d="M372.2,552.4 L378.0,555.4" fill="none" stroke="#2a16f0" stroke-width="4.0" stroke-linecap="round" stroke-linejoin="round"/>
<path d="M388.2,570.0 L394.1,572.9" fill="none" stroke="#2a16f0" stroke-width="4.0" stroke-linecap="round" stroke-linejoin="round"/>
<path d="M333.5,571.4 L337.8,573.6" fill="none" stroke="#2a16f0" stroke-width="4.0" stroke-linecap="round" stroke-linejoin="round"/>
<path d="M324.0,576.5 L321.1,579.5" fill="none" stroke="#f04848" stroke-width="4.0" stroke-linecap="round" stroke-linejoin="round"/>
<path d="M356.1,560.5 L356.1,564.9" fill="none" stroke="#f04848" stroke-width="4.0" stroke-linecap="round" stroke-linejoin="round"/>
<path d="M380.9,547.3 L381.6,550.3" fill="none" stroke="#f04848" stroke-width="4.0" stroke-linecap="round" stroke-linejoin="round"/>
<path d="M379.5,577.3 L377.3,578.3" fill="none" stroke="#f04848" stroke-width="4.0" stroke-linecap="round" stroke-linejoin="round"/>
<path d="M355.4,538.6 L356.1,540.0" fill="none" stroke="#f04848" stroke-width="4.0" stroke-linecap="round" stroke-linejoin="round"/>
<path d="M347.3,543.7 L345.1,543.7" fill="none" stroke="#f04848" stroke-width="4.0" stroke-linecap="round" stroke-linejoin="round"/>
<path d="M330.5,562.7 L329.1,566.3" fill="none" stroke="#f04848" stroke-width="4.0" stroke-linecap="round" stroke-linejoin="round"/>
<path d="M353.9,597.8 L378.7,597.1" fill="none" stroke="#c8c850" stroke-width="1.7" stroke-linecap="butt" stroke-linejoin="round" stroke-dasharray="2 1.6"/>
<path d="M353.9,600.8 L369.2,613.2" fill="none" stroke="#c8c850" stroke-width="1.7" stroke-linecap="butt" stroke-linejoin="round" stroke-dasharray="2 1.6"/>
<path d="M356.1,604.4 L369.2,614.6" fill="none" stroke="#c8c850" stroke-width="1.7" stroke-linecap="butt" stroke-linejoin="round" stroke-dasharray="2 1.6"/>
<path d="M352.4,611.7 L353.2,617.6" fill="none" stroke="#c8c850" stroke-width="1.7" stroke-linecap="butt" stroke-linejoin="round" stroke-dasharray="2 1.6"/>
<path d="M328.4,565.0 L329.1,570.8 L322.5,578.9" fill="none" stroke="#4ea8ee" stroke-width="4.0" stroke-linecap="round" stroke-linejoin="round"/>
<path d="M329.1,570.8 L334.2,572.3 L340.0,578.1 L341.5,584.0 L348.8,591.3 L351.7,597.1 L350.3,603.0 L342.2,607.3 L341.5,614.6 L340.0,620.5 L329.8,623.4 L319.6,619.0 L310.8,617.6" fill="none" stroke="#4ea8ee" stroke-width="4.0" stroke-linecap="round" stroke-linejoin="round"/>
<path d="M319.6,619.0 L322.5,617.6" fill="none" stroke="#4ea8ee" stroke-width="4.0" stroke-linecap="round" stroke-linejoin="round"/>
<path d="M350.3,603.0 L354.6,608.8 L359.7,611.0" fill="none" stroke="#4ea8ee" stroke-width="4.0" stroke-linecap="round" stroke-linejoin="round"/>
<path d="M340.0,620.5 L348.8,620.5 L363.4,622.7 L372.2,621.2 L378.0,624.9" fill="none" stroke="#4ea8ee" stroke-width="4.0" stroke-linecap="round" stroke-linejoin="round"/>
<path d="M372.2,621.2 L372.9,616.1 L383.8,612.4 L388.2,603.7 L398.4,602.2" fill="none" stroke="#4ea8ee" stroke-width="4.0" stroke-linecap="round" stroke-linejoin="round"/>
<path d="M388.2,603.7 L380.9,597.1 L382.4,591.3 L373.6,591.3" fill="none" stroke="#4ea8ee" stroke-width="4.0" stroke-linecap="round" stroke-linejoin="round"/>
<path d="M382.4,591.3 L389.7,592.7" fill="none" stroke="#4ea8ee" stroke-width="4.0" stroke-linecap="round" stroke-linejoin="round"/>
<path d="M380.9,594.2 L383.8,584.0 L380.9,578.1 L376.5,577.4" fill="none" stroke="#4ea8ee" stroke-width="4.0" stroke-linecap="round" stroke-linejoin="round"/>
<path d="M383.8,584.0 L383.8,573.8 L391.1,570.8 L398.4,565.0" fill="none" stroke="#4ea8ee" stroke-width="4.0" stroke-linecap="round" stroke-linejoin="round"/>
<path d="M340.0,620.5 L345.9,632.2 L351.7,635.1" fill="none" stroke="#4ea8ee" stroke-width="4.0" stroke-linecap="round" stroke-linejoin="round"/>
<path d="M341.5,614.6 L347.3,614.6 L348.8,620.5" fill="none" stroke="#4ea8ee" stroke-width="4.0" stroke-linecap="round" stroke-linejoin="round"/>
<path d="M334.2,572.3 L340.0,569.4 L348.8,567.9 L359.0,572.3 L360.5,575.9 L350.3,577.4 L341.5,575.2" fill="none" stroke="#4ea8ee" stroke-width="4.0" stroke-linecap="round" stroke-linejoin="round"/>
<path d="M334.2,572.3 L337.1,575.2" fill="none" stroke="#2a16f0" stroke-width="4.0" stroke-linecap="round" stroke-linejoin="round"/>
<path d="M341.5,606.6 L343.0,611.7" fill="none" stroke="#2a16f0" stroke-width="4.0" stroke-linecap="round" stroke-linejoin="round"/>
<path d="M351.7,619.7 L356.8,621.9" fill="none" stroke="#2a16f0" stroke-width="4.0" stroke-linecap="round" stroke-linejoin="round"/>
<path d="M370.7,614.6 L375.1,619.0" fill="none" stroke="#2a16f0" stroke-width="4.0" stroke-linecap="round" stroke-linejoin="round"/>
<path d="M379.5,594.2 L383.8,600.0" fill="none" stroke="#2a16f0" stroke-width="4.0" stroke-linecap="round" stroke-linejoin="round"/>
<path d="M388.9,571.6 L393.3,569.4" fill="none" stroke="#2a16f0" stroke-width="4.0" stroke-linecap="round" stroke-linejoin="round"/>
<path d="M321.8,578.9 L324.7,576.7" fill="none" stroke="#f04848" stroke-width="4.0" stroke-linecap="round" stroke-linejoin="round"/>
<path d="M353.2,597.8 L352.4,597.4" fill="none" stroke="#f04848" stroke-width="4.0" stroke-linecap="round" stroke-linejoin="round"/>
<path d="M309.4,617.6 L313.8,618.3" fill="none" stroke="#f04848" stroke-width="4.0" stroke-linecap="round" stroke-linejoin="round"/>
<path d="M322.5,617.6 L323.2,617.3" fill="none" stroke="#f04848" stroke-width="4.0" stroke-linecap="round" stroke-linejoin="round"/>
<path d="M355.4,608.8 L359.7,611.4" fill="none" stroke="#f04848" stroke-width="4.0" stroke-linecap="round" stroke-linejoin="round"/>
<path d="M375.8,624.1 L378.7,625.1" fill="none" stroke="#f04848" stroke-width="4.0" stroke-linecap="round" stroke-linejoin="round"/>
<path d="M394.1,602.2 L399.2,602.2" fill="none" stroke="#f04848" stroke-width="4.0" stroke-linecap="round" stroke-linejoin="round"/>
<path d="M376.5,577.4 L379.5,577.8" fill="none" stroke="#f04848" stroke-width="4.0" stroke-linecap="round" stroke-linejoin="round"/>
<path d="M351.0,632.2 L351.7,636.5" fill="none" stroke="#f04848" stroke-width="4.0" stroke-linecap="round" stroke-linejoin="round"/>
<path d="M598.8,40.9 L630.8,40.1 L640.4,47.8 L637.5,56.9 L636.6,64.6 L654.0,70.4 L654.9,78.2 L653.0,86.9 L659.8,94.6 L660.7,102.4 L656.9,113.0 L650.1,121.7 L651.1,132.3 L642.4,139.1 L630.8,141.0 L623.0,135.2 L611.4,129.4 L606.6,121.7 L594.0,104.3 L598.8,98.5 L600.8,91.7 L596.9,83.0 L598.8,73.3 L595.9,63.7 L594.0,52.1 L598.8,40.9" fill="none" stroke="#a8a8a8" stroke-width="7.3" stroke-linecap="round" stroke-linejoin="round"/>
<path d="M603.7,98.5 L615.7,102.9" fill="none" stroke="#a8a8a8" stroke-width="7.3" stroke-linecap="round" stroke-linejoin="round"/>
<path d="M592.1,40.5 L598.8,39.5" fill="none" stroke="#a8a8a8" stroke-width="7.3" stroke-linecap="round" stroke-linejoin="round"/>
<path d="M575.6,62.7 L594.0,61.7" fill="none" stroke="#a8a8a8" stroke-width="7.3" stroke-linecap="round" stroke-linejoin="round"/>
<path d="M598.8,40.9 L630.8,40.1 L640.4,47.8 L637.5,56.9 L636.6,64.6 L654.0,70.4 L654.9,78.2 L653.0,86.9 L659.8,94.6 L660.7,102.4 L656.9,113.0 L650.1,121.7 L651.1,132.3 L642.4,139.1 L630.8,141.0 L623.0,135.2 L611.4,129.4 L606.6,121.7 L594.0,104.3 L598.8,98.5 L600.8,91.7 L596.9,83.0 L598.8,73.3 L595.9,63.7 L594.0,52.1 L598.8,40.9" fill="none" stroke="#e6e6e6" stroke-width="5.7" stroke-linecap="round" stroke-linejoin="round"/>
<path d="M603.7,98.5 L615.7,102.9" fill="none" stroke="#e6e6e6" stroke-width="5.7" stroke-linecap="round" stroke-linejoin="round"/>
<path d="M592.1,40.5 L598.8,39.5" fill="none" stroke="#e6e6e6" stroke-width="5.7" stroke-linecap="round" stroke-linejoin="round"/>
<path d="M575.6,62.7 L594.0,61.7" fill="none" stroke="#e6e6e6" stroke-width="5.7" stroke-linecap="round" stroke-linejoin="round"/>
<path d="M594.0,40.5 L599.8,40.5 L611.4,36.6 L632.7,35.6 L641.4,47.2 L639.5,54.0 L634.6,61.7 L642.4,69.5 L648.2,75.3 L651.1,84.9 L659.8,91.7 L661.7,102.4 L664.6,112.0 L655.9,119.8 L646.2,121.7 L648.2,131.4 L638.5,137.2 L628.8,139.1 L619.1,130.4 L607.5,125.6 L603.7,121.7 L592.1,114.0 L586.3,106.2 L594.0,98.5 L595.9,88.8 L593.0,81.1 L597.9,71.4 L592.1,60.8 L595.9,48.2 L594.0,40.5" fill="none" stroke="#4ea8ee" stroke-width="6.5" stroke-linecap="round" stroke-linejoin="round"/>
<path d="M611.4,36.6 L602.7,33.7" fill="none" stroke="#4ea8ee" stroke-width="6.5" stroke-linecap="round" stroke-linejoin="round"/>
<path d="M592.1,60.8 L571.8,59.8" fill="none" stroke="#4ea8ee" stroke-width="6.5" stroke-linecap="round" stroke-linejoin="round"/>
<path d="M634.6,61.7 L623.0,67.9" fill="none" stroke="#4ea8ee" stroke-width="6.5" stroke-linecap="round" stroke-linejoin="round"/>
<path d="M594.0,98.5 L611.4,93.7" fill="none" stroke="#4ea8ee" stroke-width="6.5" stroke-linecap="round" stroke-linejoin="round"/>
<path d="M659.8,91.7 L669.4,89.2" fill="none" stroke="#4ea8ee" stroke-width="6.5" stroke-linecap="round" stroke-linejoin="round"/>
<path d="M648.2,131.4 L662.7,141.6" fill="none" stroke="#4ea8ee" stroke-width="6.5" stroke-linecap="round" stroke-linejoin="round"/>
<path d="M603.7,121.7 L601.7,135.2" fill="none" stroke="#4ea8ee" stroke-width="6.5" stroke-linecap="round" stroke-linejoin="round"/>
<path d="M638.0,43.3 L642.5,52.1" fill="none" stroke="#3a2cf0" stroke-width="6.5" stroke-linecap="round" stroke-linejoin="round"/>
<path d="M595.9,63.5 L599.9,73.5" fill="none" stroke="#3a2cf0" stroke-width="6.5" stroke-linecap="round" stroke-linejoin="round"/>
<path d="M584.0,103.9 L595.3,98.9" fill="none" stroke="#3a2cf0" stroke-width="6.5" stroke-linecap="round" stroke-linejoin="round"/>
<path d="M649.7,81.0 L653.4,89.8" fill="none" stroke="#3a2cf0" stroke-width="6.5" stroke-linecap="round" stroke-linejoin="round"/>
<path d="M643.8,120.7 L656.4,120.7" fill="none" stroke="#3a2cf0" stroke-width="6.5" stroke-linecap="round" stroke-linejoin="round"/>
<path d="M612.7,125.5 L626.5,134.3" fill="none" stroke="#3a2cf0" stroke-width="6.5" stroke-linecap="round" stroke-linejoin="round"/>
<path d="M602.7,33.7 L608.5,35.1" fill="none" stroke="#f04848" stroke-width="6.5" stroke-linecap="round" stroke-linejoin="round"/>
<path d="M571.8,59.8 L578.9,60.4" fill="none" stroke="#f04848" stroke-width="6.5" stroke-linecap="round" stroke-linejoin="round"/>
<path d="M623.0,67.9 L630.8,65.2" fill="none" stroke="#f04848" stroke-width="6.5" stroke-linecap="round" stroke-linejoin="round"/>
<path d="M604.6,94.0 L611.4,93.7" fill="none" stroke="#f04848" stroke-width="6.5" stroke-linecap="round" stroke-linejoin="round"/>
<path d="M665.6,90.0 L669.4,89.2" fill="none" stroke="#f04848" stroke-width="6.5" stroke-linecap="round" stroke-linejoin="round"/>
<path d="M656.9,139.1 L662.7,141.6" fill="none" stroke="#f04848" stroke-width="6.5" stroke-linecap="round" stroke-linejoin="round"/>
<path d="M600.8,134.3 L606.6,136.2" fill="none" stroke="#f04848" stroke-width="6.5" stroke-linecap="round" stroke-linejoin="round"/>
<path d="M594.0,104.3 L606.6,121.7 L611.4,129.4" fill="none" stroke="#a8a8a8" stroke-width="7.3" stroke-linecap="round" stroke-linejoin="round"/>
<path d="M623.0,135.2 L630.8,141.0 L642.4,139.1 L651.1,132.3" fill="none" stroke="#a8a8a8" stroke-width="7.3" stroke-linecap="round" stroke-linejoin="round"/>
<path d="M636.6,64.6 L654.0,70.4 L654.9,78.2" fill="none" stroke="#a8a8a8" stroke-width="7.3" stroke-linecap="round" stroke-linejoin="round"/>
<path d="M594.0,104.3 L606.6,121.7 L611.4,129.4" fill="none" stroke="#e6e6e6" stroke-width="5.7" stroke-linecap="round" stroke-linejoin="round"/>
<path d="M623.0,135.2 L630.8,141.0 L642.4,139.1 L651.1,132.3" fill="none" stroke="#e6e6e6" stroke-width="5.7" stroke-linecap="round" stroke-linejoin="round"/>
<path d="M636.6,64.6 L654.0,70.4 L654.9,78.2" fill="none" stroke="#e6e6e6" stroke-width="5.7" stroke-linecap="round" stroke-linejoin="round"/>
<path d="M611.3,125.9 L628.9,131.6" fill="none" stroke="#3a2cf0" stroke-width="6.5" stroke-linecap="round" stroke-linejoin="round"/>
<path d="M646.2,122.9 L655.0,121.1" fill="none" stroke="#3a2cf0" stroke-width="6.5" stroke-linecap="round" stroke-linejoin="round"/>
<path d="M592.1,40.5 L597.9,40.1" fill="none" stroke="#f04848" stroke-width="6.5" stroke-linecap="round" stroke-linejoin="round"/>
<path d="M576.6,62.7 L581.4,62.7" fill="none" stroke="#f04848" stroke-width="6.5" stroke-linecap="round" stroke-linejoin="round"/>
<path d="M610.4,101.4 L615.7,102.9" fill="none" stroke="#f04848" stroke-width="6.5" stroke-linecap="round" stroke-linejoin="round"/>
<path d="M624.0,67.9 L629.8,65.6" fill="none" stroke="#f04848" stroke-width="6.5" stroke-linecap="round" stroke-linejoin="round"/>
<path d="M657.8,140.1 L663.6,142.2" fill="none" stroke="#f04848" stroke-width="6.5" stroke-linecap="round" stroke-linejoin="round"/>
<path d="M599.1,202.1 L615.2,199.5 L625.2,203.1 L635.2,213.1 L643.3,213.1 L649.3,220.1 L659.3,224.2 L669.4,226.2 L675.4,233.2 L677.4,245.2 L673.4,255.3 L667.4,263.3 L659.3,271.3 L653.3,277.4 L653.3,285.4 L645.3,297.4 L621.2,302.5 L609.1,295.4 L603.1,277.4 L605.1,261.3 L602.1,253.3 L595.1,249.3 L587.0,243.2 L587.0,239.2 L594.1,223.2 L597.1,213.1 L599.1,202.1" fill="none" stroke="#a8a8a8" stroke-width="7.1" stroke-linecap="round" stroke-linejoin="round"/>
<path d="M677.4,245.2 L679.4,263.3" fill="none" stroke="#a8a8a8" stroke-width="7.1" stroke-linecap="round" stroke-linejoin="round"/>
<path d="M602.1,253.3 L613.1,248.2" fill="none" stroke="#a8a8a8" stroke-width="7.1" stroke-linecap="round" stroke-linejoin="round"/>
<path d="M599.1,202.1 L615.2,199.5 L625.2,203.1 L635.2,213.1 L643.3,213.1 L649.3,220.1 L659.3,224.2 L669.4,226.2 L675.4,233.2 L677.4,245.2 L673.4,255.3 L667.4,263.3 L659.3,271.3 L653.3,277.4 L653.3,285.4 L645.3,297.4 L621.2,302.5 L609.1,295.4 L603.1,277.4 L605.1,261.3 L602.1,253.3 L595.1,249.3 L587.0,243.2 L587.0,239.2 L594.1,223.2 L597.1,213.1 L599.1,202.1" fill="none" stroke="#e6e6e6" stroke-width="5.5" stroke-linecap="round" stroke-linejoin="round"/>
<path d="M677.4,245.2 L679.4,263.3" fill="none" stroke="#e6e6e6" stroke-width="5.5" stroke-linecap="round" stroke-linejoin="round"/>
<path d="M602.1,253.3 L613.1,248.2" fill="none" stroke="#e6e6e6" stroke-width="5.5" stroke-linecap="round" stroke-linejoin="round"/>
<path d="M622.2,198.1 L627.2,205.1 L631.2,210.1 L643.3,207.1 L651.3,209.1 L659.3,213.1 L651.3,222.1 L659.3,231.2 L664.3,243.2 L668.4,253.3 L661.3,263.3 L655.3,271.3 L654.3,279.4 L657.3,287.4 L653.3,295.4 L643.3,301.5 L625.2,304.5 L611.1,308.5 L601.1,291.4 L607.1,285.4 L610.1,271.3 L606.1,259.3 L611.1,247.2 L607.1,245.2 L610.7,233.2 L610.1,224.2 L605.1,215.1 L607.1,205.1 L613.1,200.7 L622.2,198.1" fill="none" stroke="#4ea8ee" stroke-width="6.3" stroke-linecap="round" stroke-linejoin="round"/>
<path d="M622.2,198.1 L626.2,187.0" fill="none" stroke="#4ea8ee" stroke-width="6.3" stroke-linecap="round" stroke-linejoin="round"/>
<path d="M659.3,213.1 L672.4,212.5" fill="none" stroke="#4ea8ee" stroke-width="6.3" stroke-linecap="round" stroke-linejoin="round"/>
<path d="M610.1,224.2 L619.2,219.5" fill="none" stroke="#4ea8ee" stroke-width="6.3" stroke-linecap="round" stroke-linejoin="round"/>
<path d="M611.1,247.2 L624.2,246.8" fill="none" stroke="#4ea8ee" stroke-width="6.3" stroke-linecap="round" stroke-linejoin="round"/>
<path d="M601.1,291.4 L587.0,291.8" fill="none" stroke="#4ea8ee" stroke-width="6.3" stroke-linecap="round" stroke-linejoin="round"/>
<path d="M654.3,279.4 L647.3,272.3 L642.3,269.7" fill="none" stroke="#4ea8ee" stroke-width="6.3" stroke-linecap="round" stroke-linejoin="round"/>
<path d="M654.3,279.4 L635.2,274.3" fill="none" stroke="#4ea8ee" stroke-width="6.3" stroke-linecap="round" stroke-linejoin="round"/>
<path d="M664.3,243.2 L657.3,250.3 L656.3,258.3" fill="none" stroke="#4ea8ee" stroke-width="6.3" stroke-linecap="round" stroke-linejoin="round"/>
<path d="M603.6,211.7 L608.0,224.2" fill="none" stroke="#3a2cf0" stroke-width="6.3" stroke-linecap="round" stroke-linejoin="round"/>
<path d="M625.6,205.8 L636.0,213.6" fill="none" stroke="#3a2cf0" stroke-width="6.3" stroke-linecap="round" stroke-linejoin="round"/>
<path d="M648.1,220.5 L654.7,226.5" fill="none" stroke="#3a2cf0" stroke-width="6.3" stroke-linecap="round" stroke-linejoin="round"/>
<path d="M666.3,250.4 L672.0,257.7" fill="none" stroke="#3a2cf0" stroke-width="6.3" stroke-linecap="round" stroke-linejoin="round"/>
<path d="M656.4,246.7 L660.8,255.3" fill="none" stroke="#3a2cf0" stroke-width="6.3" stroke-linecap="round" stroke-linejoin="round"/>
<path d="M604.6,242.5 L609.3,249.0" fill="none" stroke="#3a2cf0" stroke-width="6.3" stroke-linecap="round" stroke-linejoin="round"/>
<path d="M607.4,271.0 L613.4,282.3" fill="none" stroke="#3a2cf0" stroke-width="6.3" stroke-linecap="round" stroke-linejoin="round"/>
<path d="M620.1,304.4 L632.7,305.2" fill="none" stroke="#3a2cf0" stroke-width="6.3" stroke-linecap="round" stroke-linejoin="round"/>
<path d="M649.4,291.9 L657.2,296.3" fill="none" stroke="#3a2cf0" stroke-width="6.3" stroke-linecap="round" stroke-linejoin="round"/>
<path d="M625.2,188.0 L626.8,191.0" fill="none" stroke="#f04848" stroke-width="6.3" stroke-linecap="round" stroke-linejoin="round"/>
<path d="M666.9,212.5 L672.8,212.5" fill="none" stroke="#f04848" stroke-width="6.3" stroke-linecap="round" stroke-linejoin="round"/>
<path d="M616.2,220.3 L619.6,219.3" fill="none" stroke="#f04848" stroke-width="6.3" stroke-linecap="round" stroke-linejoin="round"/>
<path d="M620.2,247.2 L624.8,246.8" fill="none" stroke="#f04848" stroke-width="6.3" stroke-linecap="round" stroke-linejoin="round"/>
<path d="M586.6,291.8 L592.7,291.6" fill="none" stroke="#f04848" stroke-width="6.3" stroke-linecap="round" stroke-linejoin="round"/>
<path d="M641.3,269.3 L645.3,271.3" fill="none" stroke="#f04848" stroke-width="6.3" stroke-linecap="round" stroke-linejoin="round"/>
<path d="M635.2,274.3 L640.9,274.7" fill="none" stroke="#f04848" stroke-width="6.3" stroke-linecap="round" stroke-linejoin="round"/>
<path d="M599.1,202.1 L615.2,199.5" fill="none" stroke="#a8a8a8" stroke-width="7.1" stroke-linecap="round" stroke-linejoin="round"/>
<path d="M669.4,226.2 L675.4,233.2 L677.4,245.2 L673.4,255.3 L667.4,263.3" fill="none" stroke="#a8a8a8" stroke-width="7.1" stroke-linecap="round" stroke-linejoin="round"/>
<path d="M587.0,243.2 L587.0,239.2 L594.1,223.2 L597.1,213.1" fill="none" stroke="#a8a8a8" stroke-width="7.1" stroke-linecap="round" stroke-linejoin="round"/>
<path d="M599.1,202.1 L615.2,199.5" fill="none" stroke="#e6e6e6" stroke-width="5.5" stroke-linecap="round" stroke-linejoin="round"/>
<path d="M669.4,226.2 L675.4,233.2 L677.4,245.2 L673.4,255.3 L667.4,263.3" fill="none" stroke="#e6e6e6" stroke-width="5.5" stroke-linecap="round" stroke-linejoin="round"/>
<path d="M587.0,243.2 L587.0,239.2 L594.1,223.2 L597.1,213.1" fill="none" stroke="#e6e6e6" stroke-width="5.5" stroke-linecap="round" stroke-linejoin="round"/>
<path d="M586.7,242.4 L593.5,249.7" fill="none" stroke="#3a2cf0" stroke-width="6.3" stroke-linecap="round" stroke-linejoin="round"/>
<path d="M594.6,214.4 L598.5,220.9" fill="none" stroke="#3a2cf0" stroke-width="6.3" stroke-linecap="round" stroke-linejoin="round"/>
<path d="M662.4,225.3 L670.3,229.2" fill="none" stroke="#3a2cf0" stroke-width="6.3" stroke-linecap="round" stroke-linejoin="round"/>
<path d="M677.8,258.3 L679.4,263.7" fill="none" stroke="#f04848" stroke-width="6.3" stroke-linecap="round" stroke-linejoin="round"/>
<path d="M645.3,232.2 L644.3,235.6" fill="none" stroke="#f04848" stroke-width="6.3" stroke-linecap="round" stroke-linejoin="round"/>
<path d="M602.1,361.1 L599.1,369.1 L597.1,375.1 L602.1,385.2 L610.1,391.2 L614.1,395.2 L608.1,403.2 L598.1,411.3 L604.1,417.3 L606.1,431.4 L614.1,443.4 L628.2,449.4 L636.2,457.5 L644.3,459.5 L647.3,453.5 L644.3,445.4 L647.3,433.4 L650.3,425.3 L644.7,419.3 L645.9,405.3 L647.9,395.2 L652.7,385.2 L649.3,373.1 L642.3,369.1 L632.2,363.1 L616.2,359.1 L606.1,363.1 L602.1,361.1" fill="none" stroke="#a8a8a8" stroke-width="7.1" stroke-linecap="round" stroke-linejoin="round"/>
<path d="M646.3,445.4 L636.2,447.8" fill="none" stroke="#a8a8a8" stroke-width="7.1" stroke-linecap="round" stroke-linejoin="round"/>
<path d="M614.1,395.2 L620.2,387.2" fill="none" stroke="#a8a8a8" stroke-width="7.1" stroke-linecap="round" stroke-linejoin="round"/>
<path d="M602.1,361.1 L599.1,369.1 L597.1,375.1 L602.1,385.2 L610.1,391.2 L614.1,395.2 L608.1,403.2 L598.1,411.3 L604.1,417.3 L606.1,431.4 L614.1,443.4 L628.2,449.4 L636.2,457.5 L644.3,459.5 L647.3,453.5 L644.3,445.4 L647.3,433.4 L650.3,425.3 L644.7,419.3 L645.9,405.3 L647.9,395.2 L652.7,385.2 L649.3,373.1 L642.3,369.1 L632.2,363.1 L616.2,359.1 L606.1,363.1 L602.1,361.1" fill="none" stroke="#e6e6e6" stroke-width="5.5" stroke-linecap="round" stroke-linejoin="round"/>
<path d="M646.3,445.4 L636.2,447.8" fill="none" stroke="#e6e6e6" stroke-width="5.5" stroke-linecap="round" stroke-linejoin="round"/>
<path d="M614.1,395.2 L620.2,387.2" fill="none" stroke="#e6e6e6" stroke-width="5.5" stroke-linecap="round" stroke-linejoin="round"/>
<path d="M606.1,365.1 L614.1,357.1 L632.2,359.1 L636.2,369.1 L648.3,371.1 L654.3,381.2 L649.3,391.2 L650.3,399.2 L649.3,409.3 L648.3,419.3 L655.3,423.3 L652.3,435.4 L648.3,443.4 L649.3,449.4 L648.3,461.5 L638.2,463.5 L630.2,457.5 L620.2,447.4 L606.1,441.4 L604.1,435.4 L608.1,425.3 L600.1,417.3 L598.1,411.3 L606.1,405.3 L612.1,399.2 L613.1,393.2 L606.1,387.2 L600.1,383.2 L596.1,377.1 L598.1,371.1 L606.1,365.1" fill="none" stroke="#4ea8ee" stroke-width="6.3" stroke-linecap="round" stroke-linejoin="round"/>
<path d="M606.1,365.1 L602.1,359.1 L602.1,348.0" fill="none" stroke="#4ea8ee" stroke-width="6.3" stroke-linecap="round" stroke-linejoin="round"/>
<path d="M632.2,359.1 L639.2,354.0" fill="none" stroke="#4ea8ee" stroke-width="6.3" stroke-linecap="round" stroke-linejoin="round"/>
<path d="M654.3,381.2 L669.4,385.2" fill="none" stroke="#4ea8ee" stroke-width="6.3" stroke-linecap="round" stroke-linejoin="round"/>
<path d="M648.3,419.3 L634.2,422.3" fill="none" stroke="#4ea8ee" stroke-width="6.3" stroke-linecap="round" stroke-linejoin="round"/>
<path d="M604.1,439.4 L589.0,441.4" fill="none" stroke="#4ea8ee" stroke-width="6.3" stroke-linecap="round" stroke-linejoin="round"/>
<path d="M638.2,463.5 L627.2,472.5" fill="none" stroke="#4ea8ee" stroke-width="6.3" stroke-linecap="round" stroke-linejoin="round"/>
<path d="M606.1,387.2 L612.1,383.2 L618.2,380.8" fill="none" stroke="#4ea8ee" stroke-width="6.3" stroke-linecap="round" stroke-linejoin="round"/>
<path d="M602.9,362.1 L609.9,367.3" fill="none" stroke="#3a2cf0" stroke-width="6.3" stroke-linecap="round" stroke-linejoin="round"/>
<path d="M632.9,367.0 L641.2,371.7" fill="none" stroke="#3a2cf0" stroke-width="6.3" stroke-linecap="round" stroke-linejoin="round"/>
<path d="M645.4,388.0 L652.7,394.6" fill="none" stroke="#3a2cf0" stroke-width="6.3" stroke-linecap="round" stroke-linejoin="round"/>
<path d="M652.8,420.0 L657.2,427.8" fill="none" stroke="#3a2cf0" stroke-width="6.3" stroke-linecap="round" stroke-linejoin="round"/>
<path d="M645.9,447.0 L652.7,453.8" fill="none" stroke="#3a2cf0" stroke-width="6.3" stroke-linecap="round" stroke-linejoin="round"/>
<path d="M625.8,451.7 L632.6,458.2" fill="none" stroke="#3a2cf0" stroke-width="6.3" stroke-linecap="round" stroke-linejoin="round"/>
<path d="M603.7,421.6 L610.5,427.6" fill="none" stroke="#3a2cf0" stroke-width="6.3" stroke-linecap="round" stroke-linejoin="round"/>
<path d="M598.8,380.9 L604.3,388.5" fill="none" stroke="#3a2cf0" stroke-width="6.3" stroke-linecap="round" stroke-linejoin="round"/>
<path d="M602.1,348.6 L602.5,353.4" fill="none" stroke="#f04848" stroke-width="6.3" stroke-linecap="round" stroke-linejoin="round"/>
<path d="M635.8,356.0 L639.9,353.4" fill="none" stroke="#f04848" stroke-width="6.3" stroke-linecap="round" stroke-linejoin="round"/>
<path d="M664.4,384.4 L669.8,385.6" fill="none" stroke="#f04848" stroke-width="6.3" stroke-linecap="round" stroke-linejoin="round"/>
<path d="M633.8,422.5 L639.9,421.5" fill="none" stroke="#f04848" stroke-width="6.3" stroke-linecap="round" stroke-linejoin="round"/>
<path d="M588.6,441.4 L594.1,441.0" fill="none" stroke="#f04848" stroke-width="6.3" stroke-linecap="round" stroke-linejoin="round"/>
<path d="M626.8,470.9 L628.2,473.5" fill="none" stroke="#f04848" stroke-width="6.3" stroke-linecap="round" stroke-linejoin="round"/>
<path d="M615.8,381.6 L618.8,380.3" fill="none" stroke="#f04848" stroke-width="6.3" stroke-linecap="round" stroke-linejoin="round"/>
<path d="M612.7,392.8 L613.7,398.2" fill="none" stroke="#f04848" stroke-width="6.3" stroke-linecap="round" stroke-linejoin="round"/>
<path d="M614.1,395.2 L608.1,403.2 L598.1,411.3" fill="none" stroke="#a8a8a8" stroke-width="7.1" stroke-linecap="round" stroke-linejoin="round"/>
<path d="M606.1,431.4 L614.1,443.4 L628.2,449.4" fill="none" stroke="#a8a8a8" stroke-width="7.1" stroke-linecap="round" stroke-linejoin="round"/>
<path d="M614.1,395.2 L608.1,403.2 L598.1,411.3" fill="none" stroke="#e6e6e6" stroke-width="5.5" stroke-linecap="round" stroke-linejoin="round"/>
<path d="M606.1,431.4 L614.1,443.4 L628.2,449.4" fill="none" stroke="#e6e6e6" stroke-width="5.5" stroke-linecap="round" stroke-linejoin="round"/>
<path d="M619.2,388.2 L620.2,386.8" fill="none" stroke="#f04848" stroke-width="6.3" stroke-linecap="round" stroke-linejoin="round"/>
<path d="M635.2,447.4 L638.2,448.2" fill="none" stroke="#f04848" stroke-width="6.3" stroke-linecap="round" stroke-linejoin="round"/>
<path d="M612.1,393.2 L613.3,397.6" fill="none" stroke="#f04848" stroke-width="6.3" stroke-linecap="round" stroke-linejoin="round"/>
<path d="M579.2,527.5 L596.3,520.0 L614.1,514.4 L620.3,520.0 L623.4,528.4 L636.0,528.4 L648.5,535.9 L658.9,531.1 L668.9,543.6 L666.0,557.2 L658.5,563.9 L656.0,573.9 L654.8,584.3 L655.2,594.8 L662.7,603.1 L653.7,614.0 L637.0,614.6 L627.6,619.4 L613.0,621.1 L602.6,616.0 L591.7,613.5 L587.5,603.1 L590.5,592.7 L602.6,586.8 L610.5,582.6 L611.8,567.6 L605.1,563.9 L593.2,567.6 L588.0,559.7 L584.2,549.2 L577.1,546.7 L576.3,536.3 L579.2,527.5" fill="none" stroke="#a8a8a8" stroke-width="7.3" stroke-linecap="round" stroke-linejoin="round"/>
<path d="M579.2,527.5 L596.3,520.0 L614.1,514.4 L620.3,520.0 L623.4,528.4 L636.0,528.4 L648.5,535.9 L658.9,531.1 L668.9,543.6 L666.0,557.2 L658.5,563.9 L656.0,573.9 L654.8,584.3 L655.2,594.8 L662.7,603.1 L653.7,614.0 L637.0,614.6 L627.6,619.4 L613.0,621.1 L602.6,616.0 L591.7,613.5 L587.5,603.1 L590.5,592.7 L602.6,586.8 L610.5,582.6 L611.8,567.6 L605.1,563.9 L593.2,567.6 L588.0,559.7 L584.2,549.2 L577.1,546.7 L576.3,536.3 L579.2,527.5" fill="none" stroke="#e6e6e6" stroke-width="5.7" stroke-linecap="round" stroke-linejoin="round"/>
<path d="M588.0,525.9 L596.3,520.7 L610.9,514.4 L619.3,517.5 L622.4,525.9 L636.0,525.9 L644.3,532.1 L652.7,534.2 L667.3,542.6 L665.2,553.0 L663.1,559.3 L656.8,562.4 L652.7,573.9 L650.6,582.2 L648.5,588.5 L656.8,596.8 L650.6,607.3 L633.9,611.4 L627.6,617.7 L610.9,618.8 L605.7,611.4 L600.5,613.5 L590.0,605.2 L591.1,594.8 L594.2,588.5 L606.7,584.3 L607.8,573.9 L604.7,567.6 L600.5,563.4 L590.0,559.3 L590.0,553.0 L579.6,546.7 L577.5,536.3 L581.7,528.0 L588.0,525.9" fill="none" stroke="#4ea8ee" stroke-width="6.5" stroke-linecap="round" stroke-linejoin="round"/>
<path d="M622.4,525.9 L620.3,541.5" fill="none" stroke="#4ea8ee" stroke-width="6.5" stroke-linecap="round" stroke-linejoin="round"/>
<path d="M652.7,534.2 L652.2,523.4" fill="none" stroke="#4ea8ee" stroke-width="6.5" stroke-linecap="round" stroke-linejoin="round"/>
<path d="M652.7,534.2 L656.8,522.7" fill="none" stroke="#4ea8ee" stroke-width="6.5" stroke-linecap="round" stroke-linejoin="round"/>
<path d="M656.8,562.4 L647.4,561.8" fill="none" stroke="#4ea8ee" stroke-width="6.5" stroke-linecap="round" stroke-linejoin="round"/>
<path d="M656.8,596.8 L671.4,598.9" fill="none" stroke="#4ea8ee" stroke-width="6.5" stroke-linecap="round" stroke-linejoin="round"/>
<path d="M627.6,617.7 L635.5,627.1" fill="none" stroke="#4ea8ee" stroke-width="6.5" stroke-linecap="round" stroke-linejoin="round"/>
<path d="M600.5,613.5 L599.4,628.1" fill="none" stroke="#4ea8ee" stroke-width="6.5" stroke-linecap="round" stroke-linejoin="round"/>
<path d="M606.7,584.3 L617.6,591.0" fill="none" stroke="#4ea8ee" stroke-width="6.5" stroke-linecap="round" stroke-linejoin="round"/>
<path d="M579.6,546.7 L569.2,552.6" fill="none" stroke="#4ea8ee" stroke-width="6.5" stroke-linecap="round" stroke-linejoin="round"/>
<path d="M579.6,546.7 L566.0,548.8" fill="none" stroke="#4ea8ee" stroke-width="6.5" stroke-linecap="round" stroke-linejoin="round"/>
<path d="M616.0,515.7 L622.5,522.5" fill="none" stroke="#3a2cf0" stroke-width="6.5" stroke-linecap="round" stroke-linejoin="round"/>
<path d="M641.4,531.1 L648.9,536.5" fill="none" stroke="#3a2cf0" stroke-width="6.5" stroke-linecap="round" stroke-linejoin="round"/>
<path d="M659.8,556.1 L666.4,561.6" fill="none" stroke="#3a2cf0" stroke-width="6.5" stroke-linecap="round" stroke-linejoin="round"/>
<path d="M645.2,585.2 L651.7,591.7" fill="none" stroke="#3a2cf0" stroke-width="6.5" stroke-linecap="round" stroke-linejoin="round"/>
<path d="M629.0,608.0 L638.8,616.1" fill="none" stroke="#3a2cf0" stroke-width="6.5" stroke-linecap="round" stroke-linejoin="round"/>
<path d="M603.5,609.2 L610.0,616.0" fill="none" stroke="#3a2cf0" stroke-width="6.5" stroke-linecap="round" stroke-linejoin="round"/>
<path d="M591.0,586.3 L597.5,590.7" fill="none" stroke="#3a2cf0" stroke-width="6.5" stroke-linecap="round" stroke-linejoin="round"/>
<path d="M598.2,561.0 L603.1,568.0" fill="none" stroke="#3a2cf0" stroke-width="6.5" stroke-linecap="round" stroke-linejoin="round"/>
<path d="M585.6,548.4 L593.5,555.5" fill="none" stroke="#3a2cf0" stroke-width="6.5" stroke-linecap="round" stroke-linejoin="round"/>
<path d="M586.9,525.9 L589.6,527.5" fill="none" stroke="#f04848" stroke-width="6.5" stroke-linecap="round" stroke-linejoin="round"/>
<path d="M620.3,538.0 L620.3,542.2" fill="none" stroke="#f04848" stroke-width="6.5" stroke-linecap="round" stroke-linejoin="round"/>
<path d="M652.2,524.8 L652.2,522.7" fill="none" stroke="#f04848" stroke-width="6.5" stroke-linecap="round" stroke-linejoin="round"/>
<path d="M656.4,524.8 L656.8,522.7" fill="none" stroke="#f04848" stroke-width="6.5" stroke-linecap="round" stroke-linejoin="round"/>
<path d="M647.4,561.8 L650.2,563.9" fill="none" stroke="#f04848" stroke-width="6.5" stroke-linecap="round" stroke-linejoin="round"/>
<path d="M666.2,598.3 L671.9,599.1" fill="none" stroke="#f04848" stroke-width="6.5" stroke-linecap="round" stroke-linejoin="round"/>
<path d="M632.8,625.0 L636.0,627.7" fill="none" stroke="#f04848" stroke-width="6.5" stroke-linecap="round" stroke-linejoin="round"/>
<path d="M599.4,622.9 L599.4,628.6" fill="none" stroke="#f04848" stroke-width="6.5" stroke-linecap="round" stroke-linejoin="round"/>
<path d="M613.0,588.1 L618.2,591.8" fill="none" stroke="#f04848" stroke-width="6.5" stroke-linecap="round" stroke-linejoin="round"/>
<path d="M570.2,552.2 L568.8,553.0" fill="none" stroke="#f04848" stroke-width="6.5" stroke-linecap="round" stroke-linejoin="round"/>
<path d="M566.7,548.8 L565.6,548.8" fill="none" stroke="#f04848" stroke-width="6.5" stroke-linecap="round" stroke-linejoin="round"/>
<path d="M591.7,613.5 L587.5,603.1 L590.5,592.7" fill="none" stroke="#a8a8a8" stroke-width="7.3" stroke-linecap="round" stroke-linejoin="round"/>
<path d="M637.0,614.6 L653.7,614.0" fill="none" stroke="#a8a8a8" stroke-width="7.3" stroke-linecap="round" stroke-linejoin="round"/>
<path d="M611.8,567.6 L610.5,582.6" fill="none" stroke="#a8a8a8" stroke-width="7.3" stroke-linecap="round" stroke-linejoin="round"/>
<path d="M591.7,613.5 L587.5,603.1 L590.5,592.7" fill="none" stroke="#e6e6e6" stroke-width="5.7" stroke-linecap="round" stroke-linejoin="round"/>
<path d="M637.0,614.6 L653.7,614.0" fill="none" stroke="#e6e6e6" stroke-width="5.7" stroke-linecap="round" stroke-linejoin="round"/>
<path d="M611.8,567.6 L610.5,582.6" fill="none" stroke="#e6e6e6" stroke-width="5.7" stroke-linecap="round" stroke-linejoin="round"/>
<path d="M634.6,608.5 L637.3,616.1" fill="none" stroke="#3a2cf0" stroke-width="6.5" stroke-linecap="round" stroke-linejoin="round"/></svg>
</body></html>
